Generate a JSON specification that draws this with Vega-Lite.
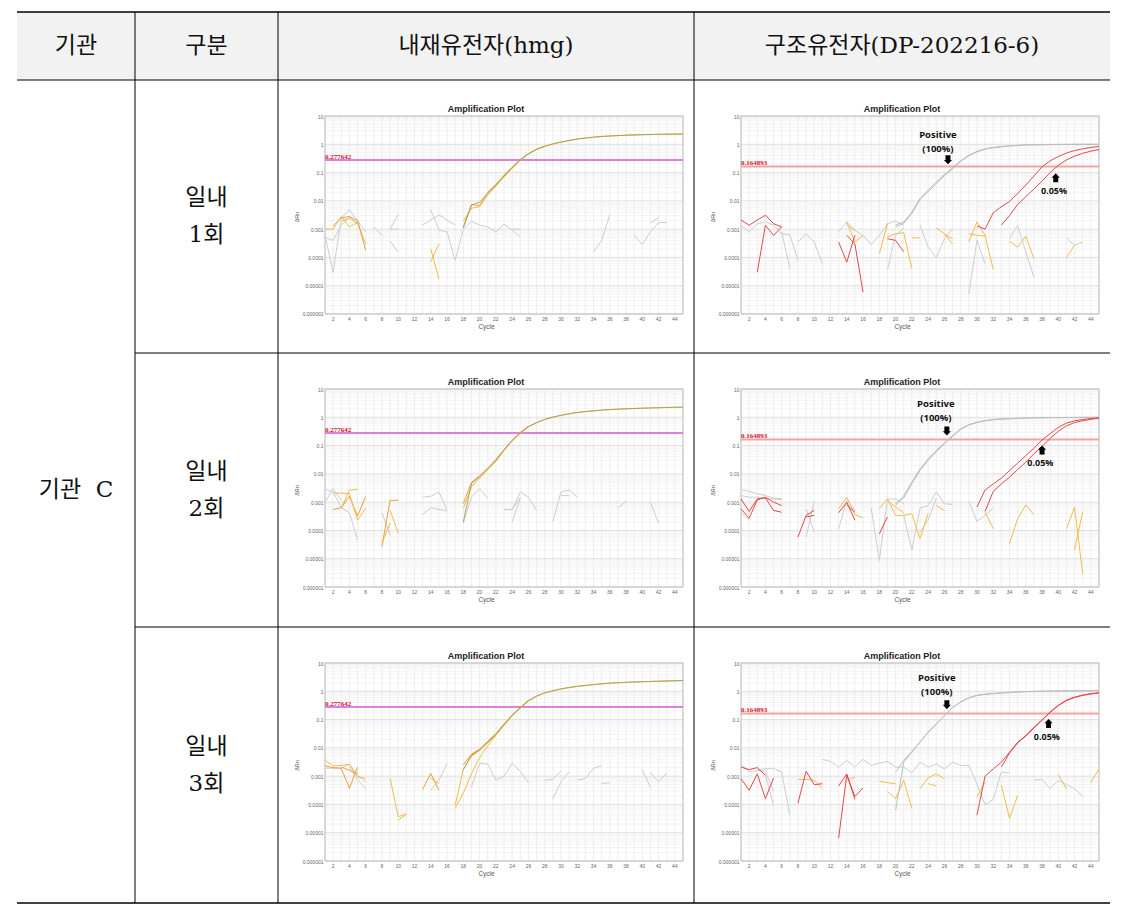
{
"$schema":"https://vega.github.io/schema/vega-lite/v6.json",
"background":"white",
"padding":{"left":16,"top":11,"right":19,"bottom":9},
"config":{"view":{"stroke":null},"axis":{"labelFont":"Liberation Sans","titleFont":"Liberation Sans"}},
"datasets":{
"gx":[{"c":1},{"c":2},{"c":3},{"c":4},{"c":5},{"c":6},{"c":7},{"c":8},{"c":9},{"c":10},{"c":11},{"c":12},{"c":13},{"c":14},{"c":15},{"c":16},{"c":17},{"c":18},{"c":19},{"c":20},{"c":21},{"c":22},{"c":23},{"c":24},{"c":25},{"c":26},{"c":27},{"c":28},{"c":29},{"c":30},{"c":31},{"c":32},{"c":33},{"c":34},{"c":35},{"c":36},{"c":37},{"c":38},{"c":39},{"c":40},{"c":41},{"c":42},{"c":43},{"c":44},{"c":45}],
"xt":[{"c":2},{"c":4},{"c":6},{"c":8},{"c":10},{"c":12},{"c":14},{"c":16},{"c":18},{"c":20},{"c":22},{"c":24},{"c":26},{"c":28},{"c":30},{"c":32},{"c":34},{"c":36},{"c":38},{"c":40},{"c":42},{"c":44}],
"gy":[{"v":2e-6},{"v":3e-6},{"v":4e-6},{"v":5e-6},{"v":6e-6},{"v":7e-6},{"v":8e-6},{"v":9e-6},{"v":2e-5},{"v":3e-5},{"v":4e-5},{"v":5e-5},{"v":6e-5},{"v":7e-5},{"v":8e-5},{"v":9e-5},{"v":2e-4},{"v":3e-4},{"v":4e-4},{"v":5e-4},{"v":6e-4},{"v":7e-4},{"v":8e-4},{"v":9e-4},{"v":0.002},{"v":0.003},{"v":0.004},{"v":0.005},{"v":0.006},{"v":0.007},{"v":0.008},{"v":0.009},{"v":0.02},{"v":0.03},{"v":0.04},{"v":0.05},{"v":0.06},{"v":0.07},{"v":0.08},{"v":0.09},{"v":0.2},{"v":0.3},{"v":0.4},{"v":0.5},{"v":0.6},{"v":0.7},{"v":0.8},{"v":0.9},{"v":2},{"v":3},{"v":4},{"v":5},{"v":6},{"v":7},{"v":8},{"v":9}],
"gd":[{"v":0.000001},{"v":0.00001},{"v":0.0001},{"v":0.001},{"v":0.01},{"v":0.1},{"v":1},{"v":10}],
"h1":[
{"s":"n1","g":"n","c":1,"v":0.0006},{"s":"n1","g":"n","c":2,"v":0.00003},{"s":"n1","g":"n","c":3,"v":0.0025},{"s":"n1","g":"n","c":4,"v":0.0048},{"s":"n1","g":"n","c":5,"v":0.002},{"s":"n1","g":"n","c":6,"v":0.0008},
{"s":"n2","g":"n","c":1,"v":0.0005},{"s":"n2","g":"n","c":2,"v":0.0004},{"s":"n2","g":"n","c":3,"v":0.0014},{"s":"n2","g":"n","c":4,"v":0.0025},{"s":"n2","g":"n","c":5,"v":0.0017},
{"s":"n3","g":"n","c":7,"v":0.0012},{"s":"n3","g":"n","c":8,"v":0.0006},
{"s":"n4","g":"n","c":9,"v":0.001},{"s":"n4","g":"n","c":10,"v":0.0034},
{"s":"n5","g":"n","c":9,"v":0.001},{"s":"n5","g":"n","c":10,"v":0.001},
{"s":"n6","g":"n","c":9,"v":0.00038},{"s":"n6","g":"n","c":10,"v":0.000155},
{"s":"n7","g":"n","c":13,"v":0.0014},{"s":"n7","g":"n","c":14,"v":0.0021},{"s":"n7","g":"n","c":15,"v":0.0032},{"s":"n7","g":"n","c":16,"v":0.0021},{"s":"n7","g":"n","c":17,"v":0.0014},
{"s":"n8","g":"n","c":14,"v":0.0048},{"s":"n8","g":"n","c":15,"v":0.00092},{"s":"n8","g":"n","c":16,"v":0.0008},{"s":"n8","g":"n","c":17,"v":0.000078},{"s":"n8","g":"n","c":18,"v":0.001},{"s":"n8","g":"n","c":19,"v":0.0019},{"s":"n8","g":"n","c":20,"v":0.0014},{"s":"n8","g":"n","c":21,"v":0.0012},{"s":"n8","g":"n","c":22,"v":0.0008},{"s":"n8","g":"n","c":23,"v":0.0015},{"s":"n8","g":"n","c":24,"v":0.00092},{"s":"n8","g":"n","c":25,"v":0.00053},
{"s":"n9","g":"n","c":24,"v":0.001},{"s":"n9","g":"n","c":25,"v":0.001},
{"s":"n10","g":"n","c":34,"v":0.000155},{"s":"n10","g":"n","c":35,"v":0.0004},{"s":"n10","g":"n","c":36,"v":0.0032},
{"s":"n11","g":"n","c":39,"v":0.0006},{"s":"n11","g":"n","c":40,"v":0.00029},{"s":"n11","g":"n","c":41,"v":0.0008},{"s":"n11","g":"n","c":42,"v":0.0017},{"s":"n11","g":"n","c":43,"v":0.0017},
{"s":"n12","g":"n","c":41,"v":0.0017},{"s":"n12","g":"n","c":42,"v":0.0025},
{"s":"y1","g":"y","c":1,"v":0.001},{"s":"y1","g":"y","c":2,"v":0.001},{"s":"y1","g":"y","c":3,"v":0.0028},{"s":"y1","g":"y","c":4,"v":0.0012},{"s":"y1","g":"y","c":5,"v":0.0017},{"s":"y1","g":"y","c":6,"v":0.0003},
{"s":"o1","g":"o","c":2,"v":0.0013},{"s":"o1","g":"o","c":3,"v":0.0025},{"s":"o1","g":"o","c":4,"v":0.0028},{"s":"o1","g":"o","c":5,"v":0.002},{"s":"o1","g":"o","c":6,"v":0.00018},
{"s":"y2","g":"y","c":3,"v":0.0019},{"s":"y2","g":"y","c":4,"v":0.0025},{"s":"y2","g":"y","c":5,"v":0.0015},
{"s":"y3","g":"y","c":14,"v":0.0002},{"s":"y3","g":"y","c":15,"v":0.000017},
{"s":"y4","g":"y","c":14,"v":0.00007},{"s":"y4","g":"y","c":15,"v":0.0003},
{"s":"b","g":"y","c":18,"v":0.0019},{"s":"b","g":"y","c":19,"v":0.0055},{"s":"b","g":"y","c":20,"v":0.0062},{"s":"b","g":"y","c":21,"v":0.016},{"s":"b","g":"y","c":22,"v":0.033},{"s":"b","g":"y","c":23,"v":0.07},{"s":"b","g":"y","c":24,"v":0.14},{"s":"b","g":"y","c":25,"v":0.27},{"s":"b","g":"y","c":26,"v":0.45},{"s":"b","g":"y","c":27,"v":0.65},{"s":"b","g":"y","c":28,"v":0.84},{"s":"b","g":"y","c":29,"v":1.02},{"s":"b","g":"y","c":30,"v":1.19},{"s":"b","g":"y","c":32,"v":1.52},{"s":"b","g":"y","c":34,"v":1.78},{"s":"b","g":"y","c":36,"v":1.96},{"s":"b","g":"y","c":38,"v":2.09},{"s":"b","g":"y","c":40,"v":2.18},{"s":"b","g":"y","c":42,"v":2.25},{"s":"b","g":"y","c":45,"v":2.31},
{"s":"c","g":"o","c":18,"v":0.0011},{"s":"c","g":"o","c":19,"v":0.0075},{"s":"c","g":"o","c":20,"v":0.0068},{"s":"c","g":"o","c":21,"v":0.02},{"s":"c","g":"o","c":22,"v":0.038},{"s":"c","g":"o","c":23,"v":0.08},{"s":"c","g":"o","c":24,"v":0.155},{"s":"c","g":"o","c":25,"v":0.29},{"s":"c","g":"o","c":26,"v":0.47},{"s":"c","g":"o","c":27,"v":0.67},{"s":"c","g":"o","c":28,"v":0.86},
{"s":"a","g":"v","c":18,"v":0.0012},{"s":"a","g":"v","c":19,"v":0.007},{"s":"a","g":"v","c":20,"v":0.009},{"s":"a","g":"v","c":21,"v":0.018},{"s":"a","g":"v","c":22,"v":0.036},{"s":"a","g":"v","c":23,"v":0.075},{"s":"a","g":"v","c":24,"v":0.15},{"s":"a","g":"v","c":25,"v":0.28},{"s":"a","g":"v","c":26,"v":0.46},{"s":"a","g":"v","c":27,"v":0.66},{"s":"a","g":"v","c":28,"v":0.85},{"s":"a","g":"v","c":29,"v":1.03},{"s":"a","g":"v","c":30,"v":1.2},{"s":"a","g":"v","c":31,"v":1.37},{"s":"a","g":"v","c":32,"v":1.53},{"s":"a","g":"v","c":33,"v":1.67},{"s":"a","g":"v","c":34,"v":1.79},{"s":"a","g":"v","c":35,"v":1.89},{"s":"a","g":"v","c":36,"v":1.97},{"s":"a","g":"v","c":38,"v":2.1},{"s":"a","g":"v","c":40,"v":2.19},{"s":"a","g":"v","c":42,"v":2.26},{"s":"a","g":"v","c":44,"v":2.3},{"s":"a","g":"v","c":45,"v":2.32}
],
"d1":[
{"s":"n1","g":"n","c":1,"v":0.00137},{"s":"n1","g":"n","c":2,"v":0.0008},{"s":"n1","g":"n","c":3,"v":0.00156},{"s":"n1","g":"n","c":4,"v":0.0018},{"s":"n1","g":"n","c":5,"v":0.00137},{"s":"n1","g":"n","c":6,"v":0.00069},{"s":"n1","g":"n","c":7,"v":0.00064},{"s":"n1","g":"n","c":8,"v":0.000078},
{"s":"n2","g":"n","c":6,"v":0.0008},{"s":"n2","g":"n","c":7,"v":0.00004},
{"s":"n3","g":"n","c":8,"v":0.00035},{"s":"n3","g":"n","c":9,"v":0.00069},{"s":"n3","g":"n","c":10,"v":0.00035},{"s":"n3","g":"n","c":11,"v":0.00006},
{"s":"n4","g":"n","c":13,"v":0.0008},{"s":"n4","g":"n","c":14,"v":0.0018},{"s":"n4","g":"n","c":15,"v":0.0009},{"s":"n4","g":"n","c":16,"v":0.0006},{"s":"n4","g":"n","c":17,"v":0.00029},{"s":"n4","g":"n","c":18,"v":0.0006},{"s":"n4","g":"n","c":19,"v":0.00156},{"s":"n4","g":"n","c":20,"v":0.0019},{"s":"n4","g":"n","c":21,"v":0.00137},
{"s":"n5","g":"n","c":19,"v":0.000036},{"s":"n5","g":"n","c":20,"v":0.0006},{"s":"n5","g":"n","c":21,"v":0.0011},
{"s":"n6","g":"n","c":23,"v":0.00144},{"s":"n6","g":"n","c":24,"v":0.00023},{"s":"n6","g":"n","c":25,"v":0.000098},{"s":"n6","g":"n","c":26,"v":0.00046},{"s":"n6","g":"n","c":27,"v":0.00105},
{"s":"n7","g":"n","c":29,"v":0.0000051},{"s":"n7","g":"n","c":30,"v":0.0004},{"s":"n7","g":"n","c":31,"v":0.00006},
{"s":"n8","g":"n","c":34,"v":0.00046},{"s":"n8","g":"n","c":35,"v":0.00137},{"s":"n8","g":"n","c":36,"v":0.000155},{"s":"n8","g":"n","c":37,"v":0.00002},
{"s":"n9","g":"n","c":41,"v":0.00049},{"s":"n9","g":"n","c":42,"v":0.00027},{"s":"n9","g":"n","c":43,"v":0.00035},
{"s":"y1","g":"y","c":14,"v":0.0018},{"s":"y1","g":"y","c":15,"v":0.00035},{"s":"y1","g":"y","c":16,"v":0.0006},
{"s":"y2","g":"y","c":14,"v":0.00137},{"s":"y2","g":"y","c":15,"v":0.0009},
{"s":"y3","g":"y","c":18,"v":0.000135},{"s":"y3","g":"y","c":19,"v":0.00156},
{"s":"y4","g":"y","c":19,"v":0.00053},{"s":"y4","g":"y","c":20,"v":0.00069},{"s":"y4","g":"y","c":21,"v":0.00075},{"s":"y4","g":"y","c":22,"v":0.00004},
{"s":"y5","g":"y","c":22,"v":0.00049},{"s":"y5","g":"y","c":23,"v":0.00049},
{"s":"y6","g":"y","c":25,"v":0.0011},{"s":"y6","g":"y","c":26,"v":0.00069},{"s":"y6","g":"y","c":27,"v":0.0003},
{"s":"y7","g":"y","c":26,"v":0.00064},{"s":"y7","g":"y","c":27,"v":0.00046},
{"s":"y8","g":"y","c":29,"v":0.00035},{"s":"y8","g":"y","c":30,"v":0.0018},{"s":"y8","g":"y","c":31,"v":0.0006},{"s":"y8","g":"y","c":32,"v":0.000037},
{"s":"y9","g":"y","c":29,"v":0.00069},{"s":"y9","g":"y","c":30,"v":0.0006},{"s":"y9","g":"y","c":31,"v":0.00057},
{"s":"y10","g":"y","c":34,"v":0.00037},{"s":"y10","g":"y","c":35,"v":0.00023},{"s":"y10","g":"y","c":36,"v":0.00057},{"s":"y10","g":"y","c":37,"v":0.00009},
{"s":"y11","g":"y","c":41,"v":0.0001},{"s":"y11","g":"y","c":42,"v":0.00027},
{"s":"r3","g":"r","c":1,"v":0.0021},{"s":"r3","g":"r","c":2,"v":0.00137},{"s":"r3","g":"r","c":3,"v":0.0021},{"s":"r3","g":"r","c":4,"v":0.0031},{"s":"r3","g":"r","c":5,"v":0.00156},{"s":"r3","g":"r","c":6,"v":0.0012},
{"s":"r4","g":"r","c":3,"v":0.00003},{"s":"r4","g":"r","c":4,"v":0.00137},{"s":"r4","g":"r","c":5,"v":0.0006},{"s":"r4","g":"r","c":6,"v":0.0012},
{"s":"r5","g":"r","c":13,"v":0.00035},{"s":"r5","g":"r","c":14,"v":0.000068},{"s":"r5","g":"r","c":15,"v":0.0006},
{"s":"r6","g":"r","c":14,"v":0.0006},{"s":"r6","g":"r","c":15,"v":0.0003},{"s":"r6","g":"r","c":16,"v":0.0000059},
{"s":"r7","g":"r","c":19,"v":0.00046},{"s":"r7","g":"r","c":20,"v":0.0004},{"s":"r7","g":"r","c":21,"v":0.00016},
{"s":"p1","g":"p","c":20,"v":0.0014},{"s":"p1","g":"p","c":21,"v":0.0018},{"s":"p1","g":"p","c":22,"v":0.004},{"s":"p1","g":"p","c":23,"v":0.012},{"s":"p1","g":"p","c":24,"v":0.024},{"s":"p1","g":"p","c":25,"v":0.046},{"s":"p1","g":"p","c":26,"v":0.085},{"s":"p1","g":"p","c":27,"v":0.145},{"s":"p1","g":"p","c":28,"v":0.26},{"s":"p1","g":"p","c":29,"v":0.41},{"s":"p1","g":"p","c":30,"v":0.56},{"s":"p1","g":"p","c":31,"v":0.69},{"s":"p1","g":"p","c":32,"v":0.77},{"s":"p1","g":"p","c":33,"v":0.83},{"s":"p1","g":"p","c":34,"v":0.88},{"s":"p1","g":"p","c":35,"v":0.92},{"s":"p1","g":"p","c":36,"v":0.95},{"s":"p1","g":"p","c":38,"v":0.98},{"s":"p1","g":"p","c":40,"v":0.99},{"s":"p1","g":"p","c":42,"v":1.0},{"s":"p1","g":"p","c":45,"v":1.0},
{"s":"p2","g":"p","c":20,"v":0.0012},{"s":"p2","g":"p","c":21,"v":0.0016},{"s":"p2","g":"p","c":22,"v":0.0036},{"s":"p2","g":"p","c":23,"v":0.011},{"s":"p2","g":"p","c":24,"v":0.021},{"s":"p2","g":"p","c":25,"v":0.041},{"s":"p2","g":"p","c":26,"v":0.078},{"s":"p2","g":"p","c":27,"v":0.135},{"s":"p2","g":"p","c":28,"v":0.25},{"s":"p2","g":"p","c":29,"v":0.39},{"s":"p2","g":"p","c":30,"v":0.54},{"s":"p2","g":"p","c":31,"v":0.67},{"s":"p2","g":"p","c":32,"v":0.76},{"s":"p2","g":"p","c":33,"v":0.82},{"s":"p2","g":"p","c":34,"v":0.87},{"s":"p2","g":"p","c":36,"v":0.94},{"s":"p2","g":"p","c":38,"v":0.97},{"s":"p2","g":"p","c":40,"v":0.985},{"s":"p2","g":"p","c":45,"v":1.0},
{"s":"r1","g":"r","c":30,"v":0.0013},{"s":"r1","g":"r","c":31,"v":0.001},{"s":"r1","g":"r","c":32,"v":0.0038},{"s":"r1","g":"r","c":33,"v":0.0062},{"s":"r1","g":"r","c":34,"v":0.0095},{"s":"r1","g":"r","c":35,"v":0.018},{"s":"r1","g":"r","c":36,"v":0.036},{"s":"r1","g":"r","c":37,"v":0.075},{"s":"r1","g":"r","c":38,"v":0.16},{"s":"r1","g":"r","c":39,"v":0.26},{"s":"r1","g":"r","c":40,"v":0.37},{"s":"r1","g":"r","c":41,"v":0.49},{"s":"r1","g":"r","c":42,"v":0.6},{"s":"r1","g":"r","c":43,"v":0.69},{"s":"r1","g":"r","c":44,"v":0.77},{"s":"r1","g":"r","c":45,"v":0.84},
{"s":"r2","g":"r","c":33,"v":0.0014},{"s":"r2","g":"r","c":34,"v":0.003},{"s":"r2","g":"r","c":35,"v":0.0075},{"s":"r2","g":"r","c":36,"v":0.014},{"s":"r2","g":"r","c":37,"v":0.026},{"s":"r2","g":"r","c":38,"v":0.05},{"s":"r2","g":"r","c":39,"v":0.1},{"s":"r2","g":"r","c":40,"v":0.18},{"s":"r2","g":"r","c":41,"v":0.28},{"s":"r2","g":"r","c":42,"v":0.38},{"s":"r2","g":"r","c":43,"v":0.48},{"s":"r2","g":"r","c":44,"v":0.57},{"s":"r2","g":"r","c":45,"v":0.65}
],
"h2":[
{"s":"n1","g":"n","c":1,"v":0.0028},{"s":"n1","g":"n","c":2,"v":0.0023},{"s":"n1","g":"n","c":3,"v":0.00064},{"s":"n1","g":"n","c":4,"v":0.00042},{"s":"n1","g":"n","c":5,"v":0.000047},
{"s":"n2","g":"n","c":1,"v":0.001},{"s":"n2","g":"n","c":2,"v":0.003},{"s":"n2","g":"n","c":3,"v":0.00116},
{"s":"n3","g":"n","c":8,"v":0.00042},{"s":"n3","g":"n","c":9,"v":0.00007},
{"s":"n4","g":"n","c":13,"v":0.0015},{"s":"n4","g":"n","c":14,"v":0.0016},{"s":"n4","g":"n","c":15,"v":0.0023},{"s":"n4","g":"n","c":16,"v":0.00052},
{"s":"n5","g":"n","c":13,"v":0.00037},{"s":"n5","g":"n","c":14,"v":0.00063},{"s":"n5","g":"n","c":15,"v":0.00055},{"s":"n5","g":"n","c":16,"v":0.00049},
{"s":"n6","g":"n","c":18,"v":0.00018},{"s":"n6","g":"n","c":19,"v":0.0015},{"s":"n6","g":"n","c":20,"v":0.003},{"s":"n6","g":"n","c":21,"v":0.0014},
{"s":"n7","g":"n","c":24,"v":0.00052},{"s":"n7","g":"n","c":25,"v":0.0023},{"s":"n7","g":"n","c":26,"v":0.0015},{"s":"n7","g":"n","c":27,"v":0.00052},
{"s":"n8","g":"n","c":23,"v":0.00055},{"s":"n8","g":"n","c":24,"v":0.00055},{"s":"n8","g":"n","c":25,"v":0.00144},
{"s":"n9","g":"n","c":24,"v":0.0002},{"s":"n9","g":"n","c":25,"v":0.0014},
{"s":"n10","g":"n","c":29,"v":0.0002},{"s":"n10","g":"n","c":30,"v":0.0023},{"s":"n10","g":"n","c":31,"v":0.0027},{"s":"n10","g":"n","c":32,"v":0.0015},
{"s":"n11","g":"n","c":30,"v":0.0017},{"s":"n11","g":"n","c":31,"v":0.0017},
{"s":"n12","g":"n","c":37,"v":0.00063},{"s":"n12","g":"n","c":38,"v":0.00107},
{"s":"n13","g":"n","c":41,"v":0.001},{"s":"n13","g":"n","c":42,"v":0.00018},
{"s":"o1","g":"o","c":2,"v":0.00055},{"s":"o1","g":"o","c":3,"v":0.00064},{"s":"o1","g":"o","c":4,"v":0.0016},{"s":"o1","g":"o","c":5,"v":0.00032},{"s":"o1","g":"o","c":6,"v":0.0016},
{"s":"y1","g":"y","c":2,"v":0.0021},{"s":"y1","g":"y","c":3,"v":0.0021},{"s":"y1","g":"y","c":4,"v":0.002},{"s":"y1","g":"y","c":5,"v":0.00023},{"s":"y1","g":"y","c":6,"v":0.0006},
{"s":"y2","g":"y","c":3,"v":0.0006},{"s":"y2","g":"y","c":4,"v":0.0027},{"s":"y2","g":"y","c":5,"v":0.0028},
{"s":"o2","g":"o","c":8,"v":0.000027},{"s":"o2","g":"o","c":9,"v":0.00116},{"s":"o2","g":"o","c":10,"v":0.00116},
{"s":"y3","g":"y","c":8,"v":0.000036},{"s":"y3","g":"y","c":9,"v":0.00018},
{"s":"y4","g":"y","c":9,"v":0.00052},{"s":"y4","g":"y","c":10,"v":0.00008},
{"s":"b","g":"y","c":18,"v":0.0006},{"s":"b","g":"y","c":19,"v":0.0035},{"s":"b","g":"y","c":20,"v":0.007},{"s":"b","g":"y","c":21,"v":0.014},{"s":"b","g":"y","c":22,"v":0.028},{"s":"b","g":"y","c":23,"v":0.066},{"s":"b","g":"y","c":24,"v":0.145},{"s":"b","g":"y","c":25,"v":0.27},{"s":"b","g":"y","c":26,"v":0.46},{"s":"b","g":"y","c":27,"v":0.64},{"s":"b","g":"y","c":28,"v":0.83},{"s":"b","g":"y","c":30,"v":1.17},{"s":"b","g":"y","c":32,"v":1.47},{"s":"b","g":"y","c":34,"v":1.69},{"s":"b","g":"y","c":36,"v":1.87},{"s":"b","g":"y","c":38,"v":1.99},{"s":"b","g":"y","c":40,"v":2.09},{"s":"b","g":"y","c":42,"v":2.17},{"s":"b","g":"y","c":45,"v":2.29},
{"s":"c","g":"o","c":18,"v":0.0009},{"s":"c","g":"o","c":19,"v":0.005},{"s":"c","g":"o","c":20,"v":0.0085},{"s":"c","g":"o","c":21,"v":0.016},{"s":"c","g":"o","c":22,"v":0.032},{"s":"c","g":"o","c":23,"v":0.072},{"s":"c","g":"o","c":24,"v":0.155},{"s":"c","g":"o","c":25,"v":0.29},{"s":"c","g":"o","c":26,"v":0.48},
{"s":"a","g":"v","c":18,"v":0.0002},{"s":"a","g":"v","c":19,"v":0.0045},{"s":"a","g":"v","c":20,"v":0.008},{"s":"a","g":"v","c":21,"v":0.015},{"s":"a","g":"v","c":22,"v":0.03},{"s":"a","g":"v","c":23,"v":0.07},{"s":"a","g":"v","c":24,"v":0.15},{"s":"a","g":"v","c":25,"v":0.28},{"s":"a","g":"v","c":26,"v":0.47},{"s":"a","g":"v","c":27,"v":0.65},{"s":"a","g":"v","c":28,"v":0.84},{"s":"a","g":"v","c":29,"v":1.02},{"s":"a","g":"v","c":30,"v":1.18},{"s":"a","g":"v","c":31,"v":1.34},{"s":"a","g":"v","c":32,"v":1.48},{"s":"a","g":"v","c":33,"v":1.6},{"s":"a","g":"v","c":34,"v":1.7},{"s":"a","g":"v","c":35,"v":1.8},{"s":"a","g":"v","c":36,"v":1.88},{"s":"a","g":"v","c":38,"v":2.0},{"s":"a","g":"v","c":40,"v":2.1},{"s":"a","g":"v","c":42,"v":2.18},{"s":"a","g":"v","c":44,"v":2.26},{"s":"a","g":"v","c":45,"v":2.3}
],
"d2":[
{"s":"n1","g":"n","c":1,"v":0.0028},{"s":"n1","g":"n","c":2,"v":0.0024},{"s":"n1","g":"n","c":3,"v":0.002},{"s":"n1","g":"n","c":4,"v":0.0017},{"s":"n1","g":"n","c":5,"v":0.0014},{"s":"n1","g":"n","c":6,"v":0.0013},
{"s":"n2","g":"n","c":1,"v":0.0017},{"s":"n2","g":"n","c":2,"v":0.0015},{"s":"n2","g":"n","c":3,"v":0.0015},{"s":"n2","g":"n","c":4,"v":0.0013},{"s":"n2","g":"n","c":5,"v":0.0013},{"s":"n2","g":"n","c":6,"v":0.00124},
{"s":"n3","g":"n","c":1,"v":0.00044},{"s":"n3","g":"n","c":2,"v":0.00023},
{"s":"n4","g":"n","c":9,"v":0.000058},{"s":"n4","g":"n","c":10,"v":0.00108},
{"s":"n5","g":"n","c":9,"v":0.00058},{"s":"n5","g":"n","c":10,"v":0.000087},
{"s":"n6","g":"n","c":13,"v":0.000115},{"s":"n6","g":"n","c":14,"v":0.00115},{"s":"n6","g":"n","c":15,"v":0.00051},
{"s":"n7","g":"n","c":17,"v":0.00063},{"s":"n7","g":"n","c":18,"v":0.0000087},{"s":"n7","g":"n","c":19,"v":0.0013},{"s":"n7","g":"n","c":20,"v":0.0013},{"s":"n7","g":"n","c":21,"v":0.00087},
{"s":"n8","g":"n","c":21,"v":0.00034},{"s":"n8","g":"n","c":22,"v":0.00002},{"s":"n8","g":"n","c":23,"v":0.00061},{"s":"n8","g":"n","c":24,"v":0.00076},{"s":"n8","g":"n","c":25,"v":0.0023},{"s":"n8","g":"n","c":26,"v":0.00087},{"s":"n8","g":"n","c":27,"v":0.00083},
{"s":"n9","g":"n","c":23,"v":0.000087},{"s":"n9","g":"n","c":24,"v":0.00023},{"s":"n9","g":"n","c":25,"v":0.0014},
{"s":"n10","g":"n","c":29,"v":0.00108},{"s":"n10","g":"n","c":30,"v":0.00021},{"s":"n10","g":"n","c":31,"v":0.00034},{"s":"n10","g":"n","c":32,"v":0.00061},
{"s":"y1","g":"y","c":13,"v":0.00058},{"s":"y1","g":"y","c":14,"v":0.0015},{"s":"y1","g":"y","c":15,"v":0.00036},{"s":"y1","g":"y","c":16,"v":0.00028},
{"s":"y2","g":"y","c":18,"v":0.00061},{"s":"y2","g":"y","c":19,"v":0.0013},{"s":"y2","g":"y","c":20,"v":0.00034},{"s":"y2","g":"y","c":21,"v":0.00034},{"s":"y2","g":"y","c":22,"v":0.00039},{"s":"y2","g":"y","c":23,"v":0.000051},{"s":"y2","g":"y","c":24,"v":0.00039},
{"s":"y3","g":"y","c":19,"v":0.00115},{"s":"y3","g":"y","c":20,"v":0.00067},{"s":"y3","g":"y","c":21,"v":0.00042},
{"s":"y4","g":"y","c":25,"v":0.00076},{"s":"y4","g":"y","c":26,"v":0.00051},
{"s":"y5","g":"y","c":31,"v":0.00044},{"s":"y5","g":"y","c":32,"v":0.000115},
{"s":"y6","g":"y","c":34,"v":0.000034},{"s":"y6","g":"y","c":35,"v":0.00026},{"s":"y6","g":"y","c":36,"v":0.0008},{"s":"y6","g":"y","c":37,"v":0.00036},
{"s":"y7","g":"y","c":41,"v":0.000115},{"s":"y7","g":"y","c":42,"v":0.00065},{"s":"y7","g":"y","c":43,"v":0.0000029},
{"s":"y8","g":"y","c":42,"v":0.00002},{"s":"y8","g":"y","c":43,"v":0.00047},
{"s":"r3","g":"r","c":1,"v":0.0013},{"s":"r3","g":"r","c":2,"v":0.00047},{"s":"r3","g":"r","c":3,"v":0.0013},{"s":"r3","g":"r","c":4,"v":0.00142},{"s":"r3","g":"r","c":5,"v":0.00051},{"s":"r3","g":"r","c":6,"v":0.00044},
{"s":"r4","g":"r","c":1,"v":0.00058},{"s":"r4","g":"r","c":2,"v":0.00027},{"s":"r4","g":"r","c":3,"v":0.0012},{"s":"r4","g":"r","c":4,"v":0.0015},{"s":"r4","g":"r","c":5,"v":0.001},{"s":"r4","g":"r","c":6,"v":0.00076},
{"s":"r5","g":"r","c":8,"v":0.000058},{"s":"r5","g":"r","c":9,"v":0.00034},{"s":"r5","g":"r","c":10,"v":0.00051},
{"s":"r6","g":"r","c":9,"v":0.0003},{"s":"r6","g":"r","c":10,"v":0.00034},
{"s":"r7","g":"r","c":13,"v":0.00042},{"s":"r7","g":"r","c":14,"v":0.001},{"s":"r7","g":"r","c":15,"v":0.00023},
{"s":"r8","g":"r","c":14,"v":0.0008},{"s":"r8","g":"r","c":15,"v":0.00044},
{"s":"r9","g":"r","c":18,"v":0.000076},{"s":"r9","g":"r","c":19,"v":0.0003},
{"s":"p1","g":"p","c":20,"v":0.00076},{"s":"p1","g":"p","c":21,"v":0.0017},{"s":"p1","g":"p","c":22,"v":0.0051},{"s":"p1","g":"p","c":23,"v":0.015},{"s":"p1","g":"p","c":24,"v":0.034},{"s":"p1","g":"p","c":25,"v":0.067},{"s":"p1","g":"p","c":26,"v":0.124},{"s":"p1","g":"p","c":27,"v":0.225},{"s":"p1","g":"p","c":28,"v":0.39},{"s":"p1","g":"p","c":29,"v":0.55},{"s":"p1","g":"p","c":30,"v":0.67},{"s":"p1","g":"p","c":31,"v":0.76},{"s":"p1","g":"p","c":32,"v":0.83},{"s":"p1","g":"p","c":33,"v":0.87},{"s":"p1","g":"p","c":34,"v":0.9},{"s":"p1","g":"p","c":35,"v":0.93},{"s":"p1","g":"p","c":36,"v":0.95},{"s":"p1","g":"p","c":38,"v":0.97},{"s":"p1","g":"p","c":40,"v":0.98},{"s":"p1","g":"p","c":42,"v":0.99},{"s":"p1","g":"p","c":45,"v":1.0},
{"s":"p2","g":"p","c":20,"v":0.0009},{"s":"p2","g":"p","c":21,"v":0.0014},{"s":"p2","g":"p","c":22,"v":0.0045},{"s":"p2","g":"p","c":23,"v":0.013},{"s":"p2","g":"p","c":24,"v":0.03},{"s":"p2","g":"p","c":25,"v":0.06},{"s":"p2","g":"p","c":26,"v":0.115},{"s":"p2","g":"p","c":27,"v":0.21},{"s":"p2","g":"p","c":28,"v":0.37},{"s":"p2","g":"p","c":29,"v":0.53},{"s":"p2","g":"p","c":30,"v":0.65},{"s":"p2","g":"p","c":31,"v":0.75},{"s":"p2","g":"p","c":32,"v":0.82},{"s":"p2","g":"p","c":34,"v":0.89},{"s":"p2","g":"p","c":36,"v":0.94},{"s":"p2","g":"p","c":38,"v":0.96},{"s":"p2","g":"p","c":40,"v":0.975},{"s":"p2","g":"p","c":45,"v":1.0},
{"s":"r1","g":"r","c":30,"v":0.00067},{"s":"r1","g":"r","c":31,"v":0.0027},{"s":"r1","g":"r","c":32,"v":0.0044},{"s":"r1","g":"r","c":33,"v":0.007},{"s":"r1","g":"r","c":34,"v":0.013},{"s":"r1","g":"r","c":35,"v":0.024},{"s":"r1","g":"r","c":36,"v":0.044},{"s":"r1","g":"r","c":37,"v":0.08},{"s":"r1","g":"r","c":38,"v":0.158},{"s":"r1","g":"r","c":39,"v":0.265},{"s":"r1","g":"r","c":40,"v":0.44},{"s":"r1","g":"r","c":41,"v":0.62},{"s":"r1","g":"r","c":42,"v":0.75},{"s":"r1","g":"r","c":43,"v":0.84},{"s":"r1","g":"r","c":44,"v":0.9},{"s":"r1","g":"r","c":45,"v":0.95},
{"s":"r2","g":"r","c":31,"v":0.00047},{"s":"r2","g":"r","c":32,"v":0.0024},{"s":"r2","g":"r","c":33,"v":0.0044},{"s":"r2","g":"r","c":34,"v":0.0076},{"s":"r2","g":"r","c":35,"v":0.0142},{"s":"r2","g":"r","c":36,"v":0.026},{"s":"r2","g":"r","c":37,"v":0.051},{"s":"r2","g":"r","c":38,"v":0.092},{"s":"r2","g":"r","c":39,"v":0.18},{"s":"r2","g":"r","c":40,"v":0.32},{"s":"r2","g":"r","c":41,"v":0.5},{"s":"r2","g":"r","c":42,"v":0.65},{"s":"r2","g":"r","c":43,"v":0.76},{"s":"r2","g":"r","c":44,"v":0.85},{"s":"r2","g":"r","c":45,"v":0.93}
],
"h3":[
{"s":"n1","g":"n","c":1,"v":0.0019},{"s":"n1","g":"n","c":2,"v":0.0019},{"s":"n1","g":"n","c":3,"v":0.0019},{"s":"n1","g":"n","c":4,"v":0.00265},{"s":"n1","g":"n","c":5,"v":0.00108},{"s":"n1","g":"n","c":6,"v":0.00063},
{"s":"n2","g":"n","c":4,"v":0.0021},{"s":"n2","g":"n","c":5,"v":0.00076},{"s":"n2","g":"n","c":6,"v":0.00037},
{"s":"n3","g":"n","c":14,"v":0.00032},{"s":"n3","g":"n","c":15,"v":0.00072},{"s":"n3","g":"n","c":16,"v":0.0028},
{"s":"n4","g":"n","c":19,"v":0.00042},{"s":"n4","g":"n","c":20,"v":0.0028},{"s":"n4","g":"n","c":21,"v":0.00265},{"s":"n4","g":"n","c":22,"v":0.00072},{"s":"n4","g":"n","c":23,"v":0.001},{"s":"n4","g":"n","c":24,"v":0.0028},{"s":"n4","g":"n","c":25,"v":0.0015},{"s":"n4","g":"n","c":26,"v":0.00058},
{"s":"n5","g":"n","c":28,"v":0.00072},{"s":"n5","g":"n","c":29,"v":0.00076},{"s":"n5","g":"n","c":30,"v":0.0015},
{"s":"n6","g":"n","c":29,"v":0.00016},{"s":"n6","g":"n","c":30,"v":0.00063},{"s":"n6","g":"n","c":31,"v":0.00142},
{"s":"n7","g":"n","c":32,"v":0.00072},{"s":"n7","g":"n","c":33,"v":0.00083},{"s":"n7","g":"n","c":34,"v":0.0019},{"s":"n7","g":"n","c":35,"v":0.0023},
{"s":"n8","g":"n","c":35,"v":0.00055},{"s":"n8","g":"n","c":36,"v":0.00058},
{"s":"n9","g":"n","c":40,"v":0.0017},{"s":"n9","g":"n","c":41,"v":0.0004},
{"s":"n10","g":"n","c":41,"v":0.00135},{"s":"n10","g":"n","c":42,"v":0.00063},{"s":"n10","g":"n","c":43,"v":0.0013},
{"s":"y1","g":"y","c":1,"v":0.0037},{"s":"y1","g":"y","c":2,"v":0.0023},{"s":"y1","g":"y","c":3,"v":0.0024},{"s":"y1","g":"y","c":4,"v":0.00265},{"s":"y1","g":"y","c":5,"v":0.00095},{"s":"y1","g":"y","c":6,"v":0.00083},
{"s":"o1","g":"o","c":1,"v":0.0023},{"s":"o1","g":"o","c":2,"v":0.002},{"s":"o1","g":"o","c":3,"v":0.0019},{"s":"o1","g":"o","c":4,"v":0.00037},{"s":"o1","g":"o","c":5,"v":0.0021},
{"s":"o2","g":"o","c":3,"v":0.0021},{"s":"o2","g":"o","c":4,"v":0.0016},{"s":"o2","g":"o","c":5,"v":0.00124},
{"s":"y2","g":"y","c":9,"v":0.00083},{"s":"y2","g":"y","c":10,"v":0.000037},{"s":"y2","g":"y","c":11,"v":0.000046},
{"s":"y3","g":"y","c":10,"v":0.000028},{"s":"y3","g":"y","c":11,"v":0.000044},
{"s":"o3","g":"o","c":13,"v":0.00034},{"s":"o3","g":"o","c":14,"v":0.00124},{"s":"o3","g":"o","c":15,"v":0.00032},
{"s":"y4","g":"y","c":14,"v":0.00083},{"s":"y4","g":"y","c":15,"v":0.00055},
{"s":"b2","g":"y","c":17,"v":0.000072},{"s":"b2","g":"y","c":18,"v":0.00025},{"s":"b2","g":"y","c":19,"v":0.0012},{"s":"b2","g":"y","c":20,"v":0.0045},{"s":"b2","g":"y","c":21,"v":0.012},{"s":"b2","g":"y","c":22,"v":0.027},
{"s":"b","g":"y","c":17,"v":0.00009},{"s":"b","g":"y","c":18,"v":0.0018},{"s":"b","g":"y","c":19,"v":0.005},{"s":"b","g":"y","c":20,"v":0.008},{"s":"b","g":"y","c":21,"v":0.015},{"s":"b","g":"y","c":22,"v":0.028},{"s":"b","g":"y","c":23,"v":0.062},{"s":"b","g":"y","c":24,"v":0.135},{"s":"b","g":"y","c":25,"v":0.25},{"s":"b","g":"y","c":26,"v":0.45},{"s":"b","g":"y","c":27,"v":0.66},{"s":"b","g":"y","c":28,"v":0.86},{"s":"b","g":"y","c":30,"v":1.2},{"s":"b","g":"y","c":32,"v":1.48},{"s":"b","g":"y","c":34,"v":1.71},{"s":"b","g":"y","c":36,"v":1.93},{"s":"b","g":"y","c":38,"v":2.06},{"s":"b","g":"y","c":40,"v":2.17},{"s":"b","g":"y","c":42,"v":2.26},{"s":"b","g":"y","c":45,"v":2.38},
{"s":"c","g":"o","c":18,"v":0.0025},{"s":"c","g":"o","c":19,"v":0.006},{"s":"c","g":"o","c":20,"v":0.009},{"s":"c","g":"o","c":21,"v":0.017},{"s":"c","g":"o","c":22,"v":0.032},{"s":"c","g":"o","c":23,"v":0.07},{"s":"c","g":"o","c":24,"v":0.145},{"s":"c","g":"o","c":25,"v":0.27},{"s":"c","g":"o","c":26,"v":0.48},
{"s":"a","g":"v","c":18,"v":0.0017},{"s":"a","g":"v","c":19,"v":0.0055},{"s":"a","g":"v","c":20,"v":0.0085},{"s":"a","g":"v","c":21,"v":0.016},{"s":"a","g":"v","c":22,"v":0.03},{"s":"a","g":"v","c":23,"v":0.066},{"s":"a","g":"v","c":24,"v":0.14},{"s":"a","g":"v","c":25,"v":0.26},{"s":"a","g":"v","c":26,"v":0.47},{"s":"a","g":"v","c":27,"v":0.68},{"s":"a","g":"v","c":28,"v":0.88},{"s":"a","g":"v","c":29,"v":1.05},{"s":"a","g":"v","c":30,"v":1.22},{"s":"a","g":"v","c":31,"v":1.37},{"s":"a","g":"v","c":32,"v":1.5},{"s":"a","g":"v","c":33,"v":1.62},{"s":"a","g":"v","c":34,"v":1.73},{"s":"a","g":"v","c":35,"v":1.84},{"s":"a","g":"v","c":36,"v":1.95},{"s":"a","g":"v","c":38,"v":2.08},{"s":"a","g":"v","c":40,"v":2.19},{"s":"a","g":"v","c":42,"v":2.28},{"s":"a","g":"v","c":44,"v":2.36},{"s":"a","g":"v","c":45,"v":2.4}
],
"d3":[
{"s":"n1","g":"n","c":1,"v":0.0027},{"s":"n1","g":"n","c":2,"v":0.0014},{"s":"n1","g":"n","c":3,"v":0.0016},{"s":"n1","g":"n","c":4,"v":0.00147},{"s":"n1","g":"n","c":5,"v":0.00028},
{"s":"n2","g":"n","c":3,"v":0.0017},{"s":"n2","g":"n","c":4,"v":0.0018},{"s":"n2","g":"n","c":5,"v":0.0019},{"s":"n2","g":"n","c":6,"v":0.0014},{"s":"n2","g":"n","c":7,"v":0.000042},
{"s":"n3","g":"n","c":4,"v":0.00107},{"s":"n3","g":"n","c":5,"v":0.000095},
{"s":"n4","g":"n","c":11,"v":0.0039},{"s":"n4","g":"n","c":12,"v":0.0033},{"s":"n4","g":"n","c":13,"v":0.0021},{"s":"n4","g":"n","c":14,"v":0.0036},{"s":"n4","g":"n","c":15,"v":0.0021},{"s":"n4","g":"n","c":16,"v":0.0039},{"s":"n4","g":"n","c":17,"v":0.0024},{"s":"n4","g":"n","c":18,"v":0.0029},{"s":"n4","g":"n","c":19,"v":0.0033},{"s":"n4","g":"n","c":20,"v":0.0021},{"s":"n4","g":"n","c":21,"v":0.0021},{"s":"n4","g":"n","c":22,"v":0.0013},{"s":"n4","g":"n","c":23,"v":0.0031},{"s":"n4","g":"n","c":24,"v":0.0021},{"s":"n4","g":"n","c":25,"v":0.0027},{"s":"n4","g":"n","c":26,"v":0.0018},{"s":"n4","g":"n","c":27,"v":0.0031},{"s":"n4","g":"n","c":28,"v":0.0024},{"s":"n4","g":"n","c":29,"v":0.0024},{"s":"n4","g":"n","c":30,"v":0.00054},
{"s":"n5","g":"n","c":30,"v":0.0005},{"s":"n5","g":"n","c":31,"v":0.0001},{"s":"n5","g":"n","c":32,"v":0.00015},{"s":"n5","g":"n","c":33,"v":0.0014},{"s":"n5","g":"n","c":34,"v":0.0013},
{"s":"n6","g":"n","c":37,"v":0.00071},{"s":"n6","g":"n","c":38,"v":0.00077},{"s":"n6","g":"n","c":39,"v":0.00036},{"s":"n6","g":"n","c":40,"v":0.00071},{"s":"n6","g":"n","c":41,"v":0.0005},{"s":"n6","g":"n","c":42,"v":0.00036},{"s":"n6","g":"n","c":43,"v":0.00019},
{"s":"y1","g":"y","c":8,"v":0.00077},{"s":"y1","g":"y","c":9,"v":0.00077},{"s":"y1","g":"y","c":10,"v":0.00071},{"s":"y1","g":"y","c":11,"v":0.00036},
{"s":"y2","g":"y","c":14,"v":0.00071},{"s":"y2","g":"y","c":15,"v":0.00093},
{"s":"y3","g":"y","c":18,"v":0.00066},{"s":"y3","g":"y","c":19,"v":0.00059},{"s":"y3","g":"y","c":20,"v":0.00054},
{"s":"y4","g":"y","c":19,"v":0.00029},{"s":"y4","g":"y","c":20,"v":0.00016},{"s":"y4","g":"y","c":21,"v":0.00071},{"s":"y4","g":"y","c":22,"v":0.000072},
{"s":"y5","g":"y","c":23,"v":0.00036},{"s":"y5","g":"y","c":24,"v":0.00086},{"s":"y5","g":"y","c":25,"v":0.0012},{"s":"y5","g":"y","c":26,"v":0.00081},
{"s":"y6","g":"y","c":24,"v":0.00054},{"s":"y6","g":"y","c":25,"v":0.00045},
{"s":"y7","g":"y","c":30,"v":0.00019},{"s":"y7","g":"y","c":31,"v":0.00062},
{"s":"y8","g":"y","c":33,"v":0.00048},{"s":"y8","g":"y","c":34,"v":0.000032},{"s":"y8","g":"y","c":35,"v":0.00021},
{"s":"y9","g":"y","c":40,"v":0.0011},{"s":"y9","g":"y","c":41,"v":0.00036},
{"s":"y10","g":"y","c":44,"v":0.00059},{"s":"y10","g":"y","c":45,"v":0.0018},
{"s":"r3","g":"r","c":1,"v":0.0021},{"s":"r3","g":"r","c":2,"v":0.0017},{"s":"r3","g":"r","c":3,"v":0.002},{"s":"r3","g":"r","c":4,"v":0.00107},
{"s":"r4","g":"r","c":1,"v":0.00081},{"s":"r4","g":"r","c":2,"v":0.00032},{"s":"r4","g":"r","c":3,"v":0.0012},{"s":"r4","g":"r","c":4,"v":0.00016},{"s":"r4","g":"r","c":5,"v":0.00086},
{"s":"r5","g":"r","c":8,"v":0.00011},{"s":"r5","g":"r","c":9,"v":0.0015},{"s":"r5","g":"r","c":10,"v":0.0005},{"s":"r5","g":"r","c":11,"v":0.00054},
{"s":"r6","g":"r","c":13,"v":0.0000064},{"s":"r6","g":"r","c":14,"v":0.0011},{"s":"r6","g":"r","c":15,"v":0.00019},{"s":"r6","g":"r","c":16,"v":0.00038},
{"s":"r7","g":"r","c":13,"v":0.00045},{"s":"r7","g":"r","c":14,"v":0.0012},{"s":"r7","g":"r","c":15,"v":0.00015},
{"s":"p1","g":"p","c":20,"v":0.000063},{"s":"p1","g":"p","c":21,"v":0.0031},{"s":"p1","g":"p","c":22,"v":0.007},{"s":"p1","g":"p","c":23,"v":0.0157},{"s":"p1","g":"p","c":24,"v":0.035},{"s":"p1","g":"p","c":25,"v":0.069},{"s":"p1","g":"p","c":26,"v":0.135},{"s":"p1","g":"p","c":27,"v":0.265},{"s":"p1","g":"p","c":28,"v":0.42},{"s":"p1","g":"p","c":29,"v":0.59},{"s":"p1","g":"p","c":30,"v":0.72},{"s":"p1","g":"p","c":31,"v":0.78},{"s":"p1","g":"p","c":32,"v":0.84},{"s":"p1","g":"p","c":33,"v":0.88},{"s":"p1","g":"p","c":34,"v":0.92},{"s":"p1","g":"p","c":36,"v":0.98},{"s":"p1","g":"p","c":38,"v":1.01},{"s":"p1","g":"p","c":40,"v":1.03},{"s":"p1","g":"p","c":45,"v":1.05},
{"s":"p2","g":"p","c":20,"v":0.0014},{"s":"p2","g":"p","c":21,"v":0.0036},{"s":"p2","g":"p","c":22,"v":0.0075},{"s":"p2","g":"p","c":23,"v":0.016},{"s":"p2","g":"p","c":24,"v":0.036},{"s":"p2","g":"p","c":25,"v":0.07},{"s":"p2","g":"p","c":26,"v":0.14},{"s":"p2","g":"p","c":27,"v":0.27},{"s":"p2","g":"p","c":28,"v":0.42},{"s":"p2","g":"p","c":29,"v":0.58},{"s":"p2","g":"p","c":30,"v":0.71},{"s":"p2","g":"p","c":31,"v":0.78},{"s":"p2","g":"p","c":32,"v":0.83},{"s":"p2","g":"p","c":34,"v":0.9},{"s":"p2","g":"p","c":36,"v":0.97},{"s":"p2","g":"p","c":40,"v":1.02},{"s":"p2","g":"p","c":45,"v":1.04},
{"s":"r1","g":"r","c":30,"v":0.000042},{"s":"r1","g":"r","c":31,"v":0.001},{"s":"r1","g":"r","c":32,"v":0.0018},{"s":"r1","g":"r","c":33,"v":0.0031},{"s":"r1","g":"r","c":34,"v":0.007},{"s":"r1","g":"r","c":35,"v":0.0157},{"s":"r1","g":"r","c":36,"v":0.027},{"s":"r1","g":"r","c":37,"v":0.053},{"s":"r1","g":"r","c":38,"v":0.098},{"s":"r1","g":"r","c":39,"v":0.187},{"s":"r1","g":"r","c":40,"v":0.32},{"s":"r1","g":"r","c":41,"v":0.49},{"s":"r1","g":"r","c":42,"v":0.62},{"s":"r1","g":"r","c":43,"v":0.74},{"s":"r1","g":"r","c":44,"v":0.82},{"s":"r1","g":"r","c":45,"v":0.89},
{"s":"r2","g":"r","c":33,"v":0.0021},{"s":"r2","g":"r","c":34,"v":0.0065},{"s":"r2","g":"r","c":35,"v":0.015},{"s":"r2","g":"r","c":36,"v":0.026},{"s":"r2","g":"r","c":37,"v":0.05},{"s":"r2","g":"r","c":38,"v":0.095},{"s":"r2","g":"r","c":39,"v":0.18},{"s":"r2","g":"r","c":40,"v":0.31},{"s":"r2","g":"r","c":41,"v":0.47},{"s":"r2","g":"r","c":42,"v":0.6},{"s":"r2","g":"r","c":43,"v":0.72},{"s":"r2","g":"r","c":44,"v":0.8},{"s":"r2","g":"r","c":45,"v":0.87}
]
},
"columns":4,"spacing":0,"bounds":"flush","align":"each",
"concat":[
 {"width":118,"height":68,"view":{"fill":"#f2f2f2","stroke":null},"data":{"values":[{"t":"기관"}]},"layer":[
  {"mark":{"type":"text","font":"DejaVu Serif, Noto Sans CJK KR","fontSize":23,"color":"#111"},"encoding":{"text":{"field":"t"},"x":{"datum":0.5,"type":"quantitative","scale":{"domain":[0,1],"nice":false,"zero":false},"axis":null},"y":{"datum":0.5,"type":"quantitative","scale":{"domain":[0,1],"nice":false,"zero":false},"axis":null}}},
  {"mark":{"type":"rule","color":"#000","strokeWidth":1.6},"encoding":{"x":{"datum":0,"type":"quantitative","scale":{"domain":[0,1],"nice":false,"zero":false},"axis":null},"x2":{"datum":1},"y":{"datum":1,"type":"quantitative","scale":{"domain":[0,1],"nice":false,"zero":false},"axis":null}}},
  {"mark":{"type":"rule","color":"#000","strokeWidth":1.2},"encoding":{"x":{"datum":0,"type":"quantitative","scale":{"domain":[0,1],"nice":false,"zero":false},"axis":null},"x2":{"datum":1},"y":{"datum":0,"type":"quantitative","scale":{"domain":[0,1],"nice":false,"zero":false},"axis":null}}}
 ]},
 {"width":143,"height":68,"view":{"fill":"#f2f2f2","stroke":null},"data":{"values":[{"t":"구분"}]},"layer":[
  {"mark":{"type":"text","font":"DejaVu Serif, Noto Sans CJK KR","fontSize":23,"color":"#111"},"encoding":{"text":{"field":"t"},"x":{"datum":0.5,"type":"quantitative","scale":{"domain":[0,1],"nice":false,"zero":false},"axis":null},"y":{"datum":0.5,"type":"quantitative","scale":{"domain":[0,1],"nice":false,"zero":false},"axis":null}}},
  {"mark":{"type":"rule","color":"#000","strokeWidth":1.6},"encoding":{"x":{"datum":0,"type":"quantitative","scale":{"domain":[0,1],"nice":false,"zero":false},"axis":null},"x2":{"datum":1},"y":{"datum":1,"type":"quantitative","scale":{"domain":[0,1],"nice":false,"zero":false},"axis":null}}},
  {"mark":{"type":"rule","color":"#000","strokeWidth":1.2},"encoding":{"x":{"datum":0,"type":"quantitative","scale":{"domain":[0,1],"nice":false,"zero":false},"axis":null},"x2":{"datum":1},"y":{"datum":0,"type":"quantitative","scale":{"domain":[0,1],"nice":false,"zero":false},"axis":null}}},
  {"mark":{"type":"rule","color":"#000","strokeWidth":1},"encoding":{"x":{"datum":0,"type":"quantitative","scale":{"domain":[0,1],"nice":false,"zero":false},"axis":null},"y":{"datum":0,"type":"quantitative","scale":{"domain":[0,1],"nice":false,"zero":false},"axis":null},"y2":{"datum":1}}}
 ]},
 {"width":416,"height":68,"view":{"fill":"#f2f2f2","stroke":null},"data":{"values":[{"t":"내재유전자(hmg)"}]},"layer":[
  {"mark":{"type":"text","font":"DejaVu Serif, Noto Sans CJK KR","fontSize":23,"color":"#111"},"encoding":{"text":{"field":"t"},"x":{"datum":0.5,"type":"quantitative","scale":{"domain":[0,1],"nice":false,"zero":false},"axis":null},"y":{"datum":0.5,"type":"quantitative","scale":{"domain":[0,1],"nice":false,"zero":false},"axis":null}}},
  {"mark":{"type":"rule","color":"#000","strokeWidth":1.6},"encoding":{"x":{"datum":0,"type":"quantitative","scale":{"domain":[0,1],"nice":false,"zero":false},"axis":null},"x2":{"datum":1},"y":{"datum":1,"type":"quantitative","scale":{"domain":[0,1],"nice":false,"zero":false},"axis":null}}},
  {"mark":{"type":"rule","color":"#000","strokeWidth":1.2},"encoding":{"x":{"datum":0,"type":"quantitative","scale":{"domain":[0,1],"nice":false,"zero":false},"axis":null},"x2":{"datum":1},"y":{"datum":0,"type":"quantitative","scale":{"domain":[0,1],"nice":false,"zero":false},"axis":null}}},
  {"mark":{"type":"rule","color":"#000","strokeWidth":1},"encoding":{"x":{"datum":0,"type":"quantitative","scale":{"domain":[0,1],"nice":false,"zero":false},"axis":null},"y":{"datum":0,"type":"quantitative","scale":{"domain":[0,1],"nice":false,"zero":false},"axis":null},"y2":{"datum":1}}}
 ]},
 {"width":416,"height":68,"view":{"fill":"#f2f2f2","stroke":null},"data":{"values":[{"t":"구조유전자(DP-202216-6)"}]},"layer":[
  {"mark":{"type":"text","font":"DejaVu Serif, Noto Sans CJK KR","fontSize":23,"color":"#111"},"encoding":{"text":{"field":"t"},"x":{"datum":0.5,"type":"quantitative","scale":{"domain":[0,1],"nice":false,"zero":false},"axis":null},"y":{"datum":0.5,"type":"quantitative","scale":{"domain":[0,1],"nice":false,"zero":false},"axis":null}}},
  {"mark":{"type":"rule","color":"#000","strokeWidth":1.6},"encoding":{"x":{"datum":0,"type":"quantitative","scale":{"domain":[0,1],"nice":false,"zero":false},"axis":null},"x2":{"datum":1},"y":{"datum":1,"type":"quantitative","scale":{"domain":[0,1],"nice":false,"zero":false},"axis":null}}},
  {"mark":{"type":"rule","color":"#000","strokeWidth":1.2},"encoding":{"x":{"datum":0,"type":"quantitative","scale":{"domain":[0,1],"nice":false,"zero":false},"axis":null},"x2":{"datum":1},"y":{"datum":0,"type":"quantitative","scale":{"domain":[0,1],"nice":false,"zero":false},"axis":null}}},
  {"mark":{"type":"rule","color":"#000","strokeWidth":1},"encoding":{"x":{"datum":0,"type":"quantitative","scale":{"domain":[0,1],"nice":false,"zero":false},"axis":null},"y":{"datum":0,"type":"quantitative","scale":{"domain":[0,1],"nice":false,"zero":false},"axis":null},"y2":{"datum":1}}}
 ]},

 {"width":118,"height":273,"data":{"values":[{"t":""}]},"mark":{"type":"text"},"encoding":{"text":{"field":"t"},"x":{"datum":0.5,"type":"quantitative","scale":{"domain":[0,1],"nice":false,"zero":false},"axis":null},"y":{"datum":0.5,"type":"quantitative","scale":{"domain":[0,1],"nice":false,"zero":false},"axis":null}}},
 {"width":143,"height":273,"data":{"values":[{"t":"일내\n1회"}]},"layer":[
  {"mark":{"type":"text","font":"DejaVu Serif, Noto Sans CJK KR","fontSize":23,"lineBreak":"\n","lineHeight":37,"dy":-18.5,"color":"#111"},"encoding":{"text":{"field":"t"},"x":{"datum":0.5,"type":"quantitative","scale":{"domain":[0,1],"nice":false,"zero":false},"axis":null},"y":{"datum":0.5,"type":"quantitative","scale":{"domain":[0,1],"nice":false,"zero":false},"axis":null}}},
  {"mark":{"type":"rule","color":"#000","strokeWidth":1},"encoding":{"x":{"datum":0,"type":"quantitative","scale":{"domain":[0,1],"nice":false,"zero":false},"axis":null},"y":{"datum":0,"type":"quantitative","scale":{"domain":[0,1],"nice":false,"zero":false},"axis":null},"y2":{"datum":1}}},
  {"mark":{"type":"rule","color":"#000","strokeWidth":1},"encoding":{"x":{"datum":0,"type":"quantitative","scale":{"domain":[0,1],"nice":false,"zero":false},"axis":null},"x2":{"datum":1},"y":{"datum":0,"type":"quantitative","scale":{"domain":[0,1],"nice":false,"zero":false},"axis":null}}}
 ]},
 {"width":416,"height":273,"data":{"values":[{}]},"layer":[
  {"data":{"name":"gx"},"mark":{"type":"rule","color":"#e3e3e3","strokeWidth":0.6},"encoding":{"x":{"field":"c","type":"quantitative","scale":{"domain":[-4.7765,46.352],"nice":false,"zero":false}},"y":{"datum":0.000001,"type":"quantitative","scale":{"type":"log","domain":[4.18e-8,187.4],"nice":false}},"y2":{"datum":10}}},
  {"data":{"name":"gy"},"mark":{"type":"rule","color":"#ececec","strokeWidth":0.6},"encoding":{"y":{"field":"v","type":"quantitative","scale":{"type":"log","domain":[4.18e-8,187.4],"nice":false}},"x":{"datum":1,"type":"quantitative","scale":{"domain":[-4.7765,46.352],"nice":false,"zero":false}},"x2":{"datum":45}}},
  {"data":{"name":"gd"},"mark":{"type":"rule","color":"#d4d4d4","strokeWidth":0.7},"encoding":{"y":{"field":"v","type":"quantitative","scale":{"type":"log","domain":[4.18e-8,187.4],"nice":false}},"x":{"datum":1,"type":"quantitative","scale":{"domain":[-4.7765,46.352],"nice":false,"zero":false}},"x2":{"datum":45}}},
  {"mark":{"type":"rect","filled":false,"color":"#b0b0b0","strokeWidth":0.8},"encoding":{"x":{"datum":1,"type":"quantitative","scale":{"domain":[-4.7765,46.352],"nice":false,"zero":false},"axis":{"orient":"bottom","offset":-39,"labels":false,"grid":false,"ticks":false,"domain":false,"title":"Cycle","titleFontSize":6.5,"titleFontWeight":"normal","titleColor":"#555","titlePadding":9}},"x2":{"datum":45},"y":{"datum":0.000001,"type":"quantitative","scale":{"type":"log","domain":[4.18e-8,187.4],"nice":false},"axis":{"orient":"left","offset":-47,"values":[0.000001,0.00001,0.0001,0.001,0.01,0.1,1,10],"format":".6~f","grid":false,"ticks":false,"domain":false,"labelOverlap":false,"labelFontSize":5,"labelColor":"#666","labelPadding":2,"title":"ΔRn","titleFontSize":5.5,"titleFontWeight":"normal","titleColor":"#555","titlePadding":3}},"y2":{"datum":10}}},
  {"data":{"name":"xt"},"mark":{"type":"text","baseline":"top","font":"Liberation Sans","fontSize":5,"color":"#666"},"encoding":{"text":{"field":"c","type":"quantitative"},"x":{"field":"c","type":"quantitative","scale":{"domain":[-4.7765,46.352],"nice":false,"zero":false}},"y":{"datum":7.8e-7,"type":"quantitative","scale":{"type":"log","domain":[4.18e-8,187.4],"nice":false}}}},
  {"mark":{"type":"rule","color":"#e07ee0","strokeWidth":2},"encoding":{"y":{"datum":0.277642,"type":"quantitative","scale":{"type":"log","domain":[4.18e-8,187.4],"nice":false}},"x":{"datum":1,"type":"quantitative","scale":{"domain":[-4.7765,46.352],"nice":false,"zero":false}},"x2":{"datum":45}}},
  {"mark":{"type":"text","align":"left","baseline":"bottom","dy":-0.5,"font":"Liberation Serif","fontSize":7,"fontWeight":"bold","color":"#d8102c"},"encoding":{"text":{"value":"0.277642"},"x":{"datum":1,"type":"quantitative","scale":{"domain":[-4.7765,46.352],"nice":false,"zero":false}},"y":{"datum":0.277642,"type":"quantitative","scale":{"type":"log","domain":[4.18e-8,187.4],"nice":false}}}},
  {"data":{"name":"h1"},"mark":{"type":"line","strokeWidth":1},"encoding":{"x":{"field":"c","type":"quantitative","scale":{"domain":[-4.7765,46.352],"nice":false,"zero":false}},"y":{"field":"v","type":"quantitative","scale":{"type":"log","domain":[4.18e-8,187.4],"nice":false}},"detail":{"field":"s","type":"nominal"},"color":{"field":"g","type":"nominal","scale":{"domain":["n","p","y","o","r","v"],"range":["#cdcdcd","#bdbdbd","#f2bb46","#eb9d3d","#e2474b","#a9a55a"]},"legend":null}}},
  {"mark":{"type":"text","font":"Liberation Sans","fontSize":9,"fontWeight":"bold","color":"#222"},"encoding":{"text":{"value":"Amplification Plot"},"x":{"datum":20.8,"type":"quantitative","scale":{"domain":[-4.7765,46.352],"nice":false,"zero":false}},"y":{"datum":17.7,"type":"quantitative","scale":{"type":"log","domain":[4.18e-8,187.4],"nice":false}}}},
  {"mark":{"type":"rule","color":"#000","strokeWidth":1},"encoding":{"x":{"datum":-4.7765,"type":"quantitative","scale":{"domain":[-4.7765,46.352],"nice":false,"zero":false}},"y":{"datum":4.18e-8,"type":"quantitative","scale":{"type":"log","domain":[4.18e-8,187.4],"nice":false}},"y2":{"datum":187.4}}},
  {"mark":{"type":"rule","color":"#000","strokeWidth":1},"encoding":{"y":{"datum":4.18e-8,"type":"quantitative","scale":{"type":"log","domain":[4.18e-8,187.4],"nice":false}},"x":{"datum":-4.7765,"type":"quantitative","scale":{"domain":[-4.7765,46.352],"nice":false,"zero":false}},"x2":{"datum":46.352}}}
 ]},
 {"width":416,"height":273,"data":{"values":[{}]},"layer":[
  {"data":{"name":"gx"},"mark":{"type":"rule","color":"#e3e3e3","strokeWidth":0.6},"encoding":{"x":{"field":"c","type":"quantitative","scale":{"domain":[-4.7765,46.352],"nice":false,"zero":false}},"y":{"datum":0.000001,"type":"quantitative","scale":{"type":"log","domain":[4.18e-8,187.4],"nice":false}},"y2":{"datum":10}}},
  {"data":{"name":"gy"},"mark":{"type":"rule","color":"#ececec","strokeWidth":0.6},"encoding":{"y":{"field":"v","type":"quantitative","scale":{"type":"log","domain":[4.18e-8,187.4],"nice":false}},"x":{"datum":1,"type":"quantitative","scale":{"domain":[-4.7765,46.352],"nice":false,"zero":false}},"x2":{"datum":45}}},
  {"data":{"name":"gd"},"mark":{"type":"rule","color":"#d4d4d4","strokeWidth":0.7},"encoding":{"y":{"field":"v","type":"quantitative","scale":{"type":"log","domain":[4.18e-8,187.4],"nice":false}},"x":{"datum":1,"type":"quantitative","scale":{"domain":[-4.7765,46.352],"nice":false,"zero":false}},"x2":{"datum":45}}},
  {"mark":{"type":"rect","filled":false,"color":"#b0b0b0","strokeWidth":0.8},"encoding":{"x":{"datum":1,"type":"quantitative","scale":{"domain":[-4.7765,46.352],"nice":false,"zero":false},"axis":{"orient":"bottom","offset":-39,"labels":false,"grid":false,"ticks":false,"domain":false,"title":"Cycle","titleFontSize":6.5,"titleFontWeight":"normal","titleColor":"#555","titlePadding":9}},"x2":{"datum":45},"y":{"datum":0.000001,"type":"quantitative","scale":{"type":"log","domain":[4.18e-8,187.4],"nice":false},"axis":{"orient":"left","offset":-47,"values":[0.000001,0.00001,0.0001,0.001,0.01,0.1,1,10],"format":".6~f","grid":false,"ticks":false,"domain":false,"labelOverlap":false,"labelFontSize":5,"labelColor":"#666","labelPadding":2,"title":"ΔRn","titleFontSize":5.5,"titleFontWeight":"normal","titleColor":"#555","titlePadding":3}},"y2":{"datum":10}}},
  {"data":{"name":"xt"},"mark":{"type":"text","baseline":"top","font":"Liberation Sans","fontSize":5,"color":"#666"},"encoding":{"text":{"field":"c","type":"quantitative"},"x":{"field":"c","type":"quantitative","scale":{"domain":[-4.7765,46.352],"nice":false,"zero":false}},"y":{"datum":7.8e-7,"type":"quantitative","scale":{"type":"log","domain":[4.18e-8,187.4],"nice":false}}}},
  {"mark":{"type":"rule","color":"#f4a39c","strokeWidth":2},"encoding":{"y":{"datum":0.164893,"type":"quantitative","scale":{"type":"log","domain":[4.18e-8,187.4],"nice":false}},"x":{"datum":1,"type":"quantitative","scale":{"domain":[-4.7765,46.352],"nice":false,"zero":false}},"x2":{"datum":45}}},
  {"mark":{"type":"text","align":"left","baseline":"bottom","dy":-0.5,"font":"Liberation Serif","fontSize":7,"fontWeight":"bold","color":"#d8102c"},"encoding":{"text":{"value":"0.164893"},"x":{"datum":1,"type":"quantitative","scale":{"domain":[-4.7765,46.352],"nice":false,"zero":false}},"y":{"datum":0.164893,"type":"quantitative","scale":{"type":"log","domain":[4.18e-8,187.4],"nice":false}}}},
  {"data":{"name":"d1"},"mark":{"type":"line","strokeWidth":1},"encoding":{"x":{"field":"c","type":"quantitative","scale":{"domain":[-4.7765,46.352],"nice":false,"zero":false}},"y":{"field":"v","type":"quantitative","scale":{"type":"log","domain":[4.18e-8,187.4],"nice":false}},"detail":{"field":"s","type":"nominal"},"color":{"field":"g","type":"nominal","scale":{"domain":["n","p","y","o","r","v"],"range":["#cdcdcd","#bdbdbd","#f2bb46","#eb9d3d","#e2474b","#a9a55a"]},"legend":null}}},
  {"mark":{"type":"text","font":"Liberation Sans","fontSize":9,"fontWeight":"bold","color":"#222"},"encoding":{"text":{"value":"Amplification Plot"},"x":{"datum":20.8,"type":"quantitative","scale":{"domain":[-4.7765,46.352],"nice":false,"zero":false}},"y":{"datum":17.7,"type":"quantitative","scale":{"type":"log","domain":[4.18e-8,187.4],"nice":false}}}},
  {"mark":{"type":"text","font":"Open Sans","fontSize":9.5,"fontWeight":"bold","lineBreak":"\n","lineHeight":14,"dy":-7,"color":"#111"},"encoding":{"text":{"value":"Positive\n(100%)"},"x":{"datum":25.2,"type":"quantitative","scale":{"domain":[-4.7765,46.352],"nice":false,"zero":false}},"y":{"datum":1.2,"type":"quantitative","scale":{"type":"log","domain":[4.18e-8,187.4],"nice":false}}}},
  {"mark":{"type":"point","shape":"M-0.55,-1L0.55,-1L0.55,0.05L0.9,0.05L0,1L-0.9,0.05L-0.55,0.05Z","size":81,"filled":true,"color":"#000","opacity":1},"encoding":{"x":{"datum":26.44,"type":"quantitative","scale":{"domain":[-4.7765,46.352],"nice":false,"zero":false}},"y":{"datum":0.283,"type":"quantitative","scale":{"type":"log","domain":[4.18e-8,187.4],"nice":false}}}},
  {"mark":{"type":"text","font":"Open Sans","fontSize":9,"fontWeight":"bold","color":"#111"},"encoding":{"text":{"value":"0.05%"},"x":{"datum":39.47,"type":"quantitative","scale":{"domain":[-4.7765,46.352],"nice":false,"zero":false}},"y":{"datum":0.0219,"type":"quantitative","scale":{"type":"log","domain":[4.18e-8,187.4],"nice":false}}}},
  {"mark":{"type":"point","shape":"M-0.55,1L0.55,1L0.55,-0.05L0.9,-0.05L0,-1L-0.9,-0.05L-0.55,-0.05Z","size":81,"filled":true,"color":"#000","opacity":1},"encoding":{"x":{"datum":39.68,"type":"quantitative","scale":{"domain":[-4.7765,46.352],"nice":false,"zero":false}},"y":{"datum":0.065,"type":"quantitative","scale":{"type":"log","domain":[4.18e-8,187.4],"nice":false}}}},
  {"mark":{"type":"rule","color":"#000","strokeWidth":1},"encoding":{"x":{"datum":-4.7765,"type":"quantitative","scale":{"domain":[-4.7765,46.352],"nice":false,"zero":false}},"y":{"datum":4.18e-8,"type":"quantitative","scale":{"type":"log","domain":[4.18e-8,187.4],"nice":false}},"y2":{"datum":187.4}}},
  {"mark":{"type":"rule","color":"#000","strokeWidth":1},"encoding":{"y":{"datum":4.18e-8,"type":"quantitative","scale":{"type":"log","domain":[4.18e-8,187.4],"nice":false}},"x":{"datum":-4.7765,"type":"quantitative","scale":{"domain":[-4.7765,46.352],"nice":false,"zero":false}},"x2":{"datum":46.352}}}
 ]},

 {"width":118,"height":274,"data":{"values":[{"t":"기관\u00a0\u00a0C"}]},"mark":{"type":"text","font":"DejaVu Serif, Noto Sans CJK KR","fontSize":23,"color":"#111"},"encoding":{"text":{"field":"t"},"x":{"datum":0.5,"type":"quantitative","scale":{"domain":[0,1],"nice":false,"zero":false},"axis":null},"y":{"datum":0.5,"type":"quantitative","scale":{"domain":[0,1],"nice":false,"zero":false},"axis":null}}},
 {"width":143,"height":274,"data":{"values":[{"t":"일내\n2회"}]},"layer":[
  {"mark":{"type":"text","font":"DejaVu Serif, Noto Sans CJK KR","fontSize":23,"lineBreak":"\n","lineHeight":37,"dy":-18.5,"color":"#111"},"encoding":{"text":{"field":"t"},"x":{"datum":0.5,"type":"quantitative","scale":{"domain":[0,1],"nice":false,"zero":false},"axis":null},"y":{"datum":0.5,"type":"quantitative","scale":{"domain":[0,1],"nice":false,"zero":false},"axis":null}}},
  {"mark":{"type":"rule","color":"#000","strokeWidth":1},"encoding":{"x":{"datum":0,"type":"quantitative","scale":{"domain":[0,1],"nice":false,"zero":false},"axis":null},"y":{"datum":0,"type":"quantitative","scale":{"domain":[0,1],"nice":false,"zero":false},"axis":null},"y2":{"datum":1}}},
  {"mark":{"type":"rule","color":"#000","strokeWidth":1},"encoding":{"x":{"datum":0,"type":"quantitative","scale":{"domain":[0,1],"nice":false,"zero":false},"axis":null},"x2":{"datum":1},"y":{"datum":0,"type":"quantitative","scale":{"domain":[0,1],"nice":false,"zero":false},"axis":null}}}
 ]},
 {"width":416,"height":274,"data":{"values":[{}]},"layer":[
  {"data":{"name":"gx"},"mark":{"type":"rule","color":"#e3e3e3","strokeWidth":0.6},"encoding":{"x":{"field":"c","type":"quantitative","scale":{"domain":[-4.7765,46.352],"nice":false,"zero":false}},"y":{"datum":0.000001,"type":"quantitative","scale":{"type":"log","domain":[3.855e-8,187.4],"nice":false}},"y2":{"datum":10}}},
  {"data":{"name":"gy"},"mark":{"type":"rule","color":"#ececec","strokeWidth":0.6},"encoding":{"y":{"field":"v","type":"quantitative","scale":{"type":"log","domain":[3.855e-8,187.4],"nice":false}},"x":{"datum":1,"type":"quantitative","scale":{"domain":[-4.7765,46.352],"nice":false,"zero":false}},"x2":{"datum":45}}},
  {"data":{"name":"gd"},"mark":{"type":"rule","color":"#d4d4d4","strokeWidth":0.7},"encoding":{"y":{"field":"v","type":"quantitative","scale":{"type":"log","domain":[3.855e-8,187.4],"nice":false}},"x":{"datum":1,"type":"quantitative","scale":{"domain":[-4.7765,46.352],"nice":false,"zero":false}},"x2":{"datum":45}}},
  {"mark":{"type":"rect","filled":false,"color":"#b0b0b0","strokeWidth":0.8},"encoding":{"x":{"datum":1,"type":"quantitative","scale":{"domain":[-4.7765,46.352],"nice":false,"zero":false},"axis":{"orient":"bottom","offset":-40,"labels":false,"grid":false,"ticks":false,"domain":false,"title":"Cycle","titleFontSize":6.5,"titleFontWeight":"normal","titleColor":"#555","titlePadding":9}},"x2":{"datum":45},"y":{"datum":0.000001,"type":"quantitative","scale":{"type":"log","domain":[3.855e-8,187.4],"nice":false},"axis":{"orient":"left","offset":-47,"values":[0.000001,0.00001,0.0001,0.001,0.01,0.1,1,10],"format":".6~f","grid":false,"ticks":false,"domain":false,"labelOverlap":false,"labelFontSize":5,"labelColor":"#666","labelPadding":2,"title":"ΔRn","titleFontSize":5.5,"titleFontWeight":"normal","titleColor":"#555","titlePadding":3}},"y2":{"datum":10}}},
  {"data":{"name":"xt"},"mark":{"type":"text","baseline":"top","font":"Liberation Sans","fontSize":5,"color":"#666"},"encoding":{"text":{"field":"c","type":"quantitative"},"x":{"field":"c","type":"quantitative","scale":{"domain":[-4.7765,46.352],"nice":false,"zero":false}},"y":{"datum":7.8e-7,"type":"quantitative","scale":{"type":"log","domain":[3.855e-8,187.4],"nice":false}}}},
  {"mark":{"type":"rule","color":"#e07ee0","strokeWidth":2},"encoding":{"y":{"datum":0.277642,"type":"quantitative","scale":{"type":"log","domain":[3.855e-8,187.4],"nice":false}},"x":{"datum":1,"type":"quantitative","scale":{"domain":[-4.7765,46.352],"nice":false,"zero":false}},"x2":{"datum":45}}},
  {"mark":{"type":"text","align":"left","baseline":"bottom","dy":-0.5,"font":"Liberation Serif","fontSize":7,"fontWeight":"bold","color":"#d8102c"},"encoding":{"text":{"value":"0.277642"},"x":{"datum":1,"type":"quantitative","scale":{"domain":[-4.7765,46.352],"nice":false,"zero":false}},"y":{"datum":0.277642,"type":"quantitative","scale":{"type":"log","domain":[3.855e-8,187.4],"nice":false}}}},
  {"data":{"name":"h2"},"mark":{"type":"line","strokeWidth":1},"encoding":{"x":{"field":"c","type":"quantitative","scale":{"domain":[-4.7765,46.352],"nice":false,"zero":false}},"y":{"field":"v","type":"quantitative","scale":{"type":"log","domain":[3.855e-8,187.4],"nice":false}},"detail":{"field":"s","type":"nominal"},"color":{"field":"g","type":"nominal","scale":{"domain":["n","p","y","o","r","v"],"range":["#cdcdcd","#bdbdbd","#f2bb46","#eb9d3d","#e2474b","#a9a55a"]},"legend":null}}},
  {"mark":{"type":"text","font":"Liberation Sans","fontSize":9,"fontWeight":"bold","color":"#222"},"encoding":{"text":{"value":"Amplification Plot"},"x":{"datum":20.8,"type":"quantitative","scale":{"domain":[-4.7765,46.352],"nice":false,"zero":false}},"y":{"datum":17.7,"type":"quantitative","scale":{"type":"log","domain":[3.855e-8,187.4],"nice":false}}}},
  {"mark":{"type":"rule","color":"#000","strokeWidth":1},"encoding":{"x":{"datum":-4.7765,"type":"quantitative","scale":{"domain":[-4.7765,46.352],"nice":false,"zero":false}},"y":{"datum":3.855e-8,"type":"quantitative","scale":{"type":"log","domain":[3.855e-8,187.4],"nice":false}},"y2":{"datum":187.4}}},
  {"mark":{"type":"rule","color":"#000","strokeWidth":1},"encoding":{"y":{"datum":3.855e-8,"type":"quantitative","scale":{"type":"log","domain":[3.855e-8,187.4],"nice":false}},"x":{"datum":-4.7765,"type":"quantitative","scale":{"domain":[-4.7765,46.352],"nice":false,"zero":false}},"x2":{"datum":46.352}}}
 ]},
 {"width":416,"height":274,"data":{"values":[{}]},"layer":[
  {"data":{"name":"gx"},"mark":{"type":"rule","color":"#e3e3e3","strokeWidth":0.6},"encoding":{"x":{"field":"c","type":"quantitative","scale":{"domain":[-4.7765,46.352],"nice":false,"zero":false}},"y":{"datum":0.000001,"type":"quantitative","scale":{"type":"log","domain":[3.855e-8,187.4],"nice":false}},"y2":{"datum":10}}},
  {"data":{"name":"gy"},"mark":{"type":"rule","color":"#ececec","strokeWidth":0.6},"encoding":{"y":{"field":"v","type":"quantitative","scale":{"type":"log","domain":[3.855e-8,187.4],"nice":false}},"x":{"datum":1,"type":"quantitative","scale":{"domain":[-4.7765,46.352],"nice":false,"zero":false}},"x2":{"datum":45}}},
  {"data":{"name":"gd"},"mark":{"type":"rule","color":"#d4d4d4","strokeWidth":0.7},"encoding":{"y":{"field":"v","type":"quantitative","scale":{"type":"log","domain":[3.855e-8,187.4],"nice":false}},"x":{"datum":1,"type":"quantitative","scale":{"domain":[-4.7765,46.352],"nice":false,"zero":false}},"x2":{"datum":45}}},
  {"mark":{"type":"rect","filled":false,"color":"#b0b0b0","strokeWidth":0.8},"encoding":{"x":{"datum":1,"type":"quantitative","scale":{"domain":[-4.7765,46.352],"nice":false,"zero":false},"axis":{"orient":"bottom","offset":-40,"labels":false,"grid":false,"ticks":false,"domain":false,"title":"Cycle","titleFontSize":6.5,"titleFontWeight":"normal","titleColor":"#555","titlePadding":9}},"x2":{"datum":45},"y":{"datum":0.000001,"type":"quantitative","scale":{"type":"log","domain":[3.855e-8,187.4],"nice":false},"axis":{"orient":"left","offset":-47,"values":[0.000001,0.00001,0.0001,0.001,0.01,0.1,1,10],"format":".6~f","grid":false,"ticks":false,"domain":false,"labelOverlap":false,"labelFontSize":5,"labelColor":"#666","labelPadding":2,"title":"ΔRn","titleFontSize":5.5,"titleFontWeight":"normal","titleColor":"#555","titlePadding":3}},"y2":{"datum":10}}},
  {"data":{"name":"xt"},"mark":{"type":"text","baseline":"top","font":"Liberation Sans","fontSize":5,"color":"#666"},"encoding":{"text":{"field":"c","type":"quantitative"},"x":{"field":"c","type":"quantitative","scale":{"domain":[-4.7765,46.352],"nice":false,"zero":false}},"y":{"datum":7.8e-7,"type":"quantitative","scale":{"type":"log","domain":[3.855e-8,187.4],"nice":false}}}},
  {"mark":{"type":"rule","color":"#f4a39c","strokeWidth":2},"encoding":{"y":{"datum":0.164893,"type":"quantitative","scale":{"type":"log","domain":[3.855e-8,187.4],"nice":false}},"x":{"datum":1,"type":"quantitative","scale":{"domain":[-4.7765,46.352],"nice":false,"zero":false}},"x2":{"datum":45}}},
  {"mark":{"type":"text","align":"left","baseline":"bottom","dy":-0.5,"font":"Liberation Serif","fontSize":7,"fontWeight":"bold","color":"#d8102c"},"encoding":{"text":{"value":"0.164893"},"x":{"datum":1,"type":"quantitative","scale":{"domain":[-4.7765,46.352],"nice":false,"zero":false}},"y":{"datum":0.164893,"type":"quantitative","scale":{"type":"log","domain":[3.855e-8,187.4],"nice":false}}}},
  {"data":{"name":"d2"},"mark":{"type":"line","strokeWidth":1},"encoding":{"x":{"field":"c","type":"quantitative","scale":{"domain":[-4.7765,46.352],"nice":false,"zero":false}},"y":{"field":"v","type":"quantitative","scale":{"type":"log","domain":[3.855e-8,187.4],"nice":false}},"detail":{"field":"s","type":"nominal"},"color":{"field":"g","type":"nominal","scale":{"domain":["n","p","y","o","r","v"],"range":["#cdcdcd","#bdbdbd","#f2bb46","#eb9d3d","#e2474b","#a9a55a"]},"legend":null}}},
  {"mark":{"type":"text","font":"Liberation Sans","fontSize":9,"fontWeight":"bold","color":"#222"},"encoding":{"text":{"value":"Amplification Plot"},"x":{"datum":20.8,"type":"quantitative","scale":{"domain":[-4.7765,46.352],"nice":false,"zero":false}},"y":{"datum":17.7,"type":"quantitative","scale":{"type":"log","domain":[3.855e-8,187.4],"nice":false}}}},
  {"mark":{"type":"text","font":"Open Sans","fontSize":9.5,"fontWeight":"bold","lineBreak":"\n","lineHeight":14,"dy":-7,"color":"#111"},"encoding":{"text":{"value":"Positive\n(100%)"},"x":{"datum":24.95,"type":"quantitative","scale":{"domain":[-4.7765,46.352],"nice":false,"zero":false}},"y":{"datum":1.67,"type":"quantitative","scale":{"type":"log","domain":[3.855e-8,187.4],"nice":false}}}},
  {"mark":{"type":"point","shape":"M-0.55,-1L0.55,-1L0.55,0.05L0.9,0.05L0,1L-0.9,0.05L-0.55,0.05Z","size":81,"filled":true,"color":"#000","opacity":1},"encoding":{"x":{"datum":26.3,"type":"quantitative","scale":{"domain":[-4.7765,46.352],"nice":false,"zero":false}},"y":{"datum":0.33,"type":"quantitative","scale":{"type":"log","domain":[3.855e-8,187.4],"nice":false}}}},
  {"mark":{"type":"text","font":"Open Sans","fontSize":9,"fontWeight":"bold","color":"#111"},"encoding":{"text":{"value":"0.05%"},"x":{"datum":37.8,"type":"quantitative","scale":{"domain":[-4.7765,46.352],"nice":false,"zero":false}},"y":{"datum":0.024,"type":"quantitative","scale":{"type":"log","domain":[3.855e-8,187.4],"nice":false}}}},
  {"mark":{"type":"point","shape":"M-0.55,1L0.55,1L0.55,-0.05L0.9,-0.05L0,-1L-0.9,-0.05L-0.55,-0.05Z","size":81,"filled":true,"color":"#000","opacity":1},"encoding":{"x":{"datum":38.0,"type":"quantitative","scale":{"domain":[-4.7765,46.352],"nice":false,"zero":false}},"y":{"datum":0.07,"type":"quantitative","scale":{"type":"log","domain":[3.855e-8,187.4],"nice":false}}}},
  {"mark":{"type":"rule","color":"#000","strokeWidth":1},"encoding":{"x":{"datum":-4.7765,"type":"quantitative","scale":{"domain":[-4.7765,46.352],"nice":false,"zero":false}},"y":{"datum":3.855e-8,"type":"quantitative","scale":{"type":"log","domain":[3.855e-8,187.4],"nice":false}},"y2":{"datum":187.4}}},
  {"mark":{"type":"rule","color":"#000","strokeWidth":1},"encoding":{"y":{"datum":3.855e-8,"type":"quantitative","scale":{"type":"log","domain":[3.855e-8,187.4],"nice":false}},"x":{"datum":-4.7765,"type":"quantitative","scale":{"domain":[-4.7765,46.352],"nice":false,"zero":false}},"x2":{"datum":46.352}}}
 ]},

 {"width":118,"height":276,"data":{"values":[{"t":""}]},"layer":[
  {"mark":{"type":"text"},"encoding":{"text":{"field":"t"},"x":{"datum":0.5,"type":"quantitative","scale":{"domain":[0,1],"nice":false,"zero":false},"axis":null},"y":{"datum":0.5,"type":"quantitative","scale":{"domain":[0,1],"nice":false,"zero":false},"axis":null}}},
  {"mark":{"type":"rule","color":"#000","strokeWidth":1.6},"encoding":{"x":{"datum":0,"type":"quantitative","scale":{"domain":[0,1],"nice":false,"zero":false},"axis":null},"x2":{"datum":1},"y":{"datum":0,"type":"quantitative","scale":{"domain":[0,1],"nice":false,"zero":false},"axis":null}}}
 ]},
 {"width":143,"height":276,"data":{"values":[{"t":"일내\n3회"}]},"layer":[
  {"mark":{"type":"text","font":"DejaVu Serif, Noto Sans CJK KR","fontSize":23,"lineBreak":"\n","lineHeight":37,"dy":-18.5,"color":"#111"},"encoding":{"text":{"field":"t"},"x":{"datum":0.5,"type":"quantitative","scale":{"domain":[0,1],"nice":false,"zero":false},"axis":null},"y":{"datum":0.5,"type":"quantitative","scale":{"domain":[0,1],"nice":false,"zero":false},"axis":null}}},
  {"mark":{"type":"rule","color":"#000","strokeWidth":1},"encoding":{"x":{"datum":0,"type":"quantitative","scale":{"domain":[0,1],"nice":false,"zero":false},"axis":null},"y":{"datum":0,"type":"quantitative","scale":{"domain":[0,1],"nice":false,"zero":false},"axis":null},"y2":{"datum":1}}},
  {"mark":{"type":"rule","color":"#000","strokeWidth":1.6},"encoding":{"x":{"datum":0,"type":"quantitative","scale":{"domain":[0,1],"nice":false,"zero":false},"axis":null},"x2":{"datum":1},"y":{"datum":0,"type":"quantitative","scale":{"domain":[0,1],"nice":false,"zero":false},"axis":null}}}
 ]},
 {"width":416,"height":276,"data":{"values":[{}]},"layer":[
  {"data":{"name":"gx"},"mark":{"type":"rule","color":"#e3e3e3","strokeWidth":0.6},"encoding":{"x":{"field":"c","type":"quantitative","scale":{"domain":[-4.7765,46.352],"nice":false,"zero":false}},"y":{"datum":0.000001,"type":"quantitative","scale":{"type":"log","domain":[3.276e-8,187.4],"nice":false}},"y2":{"datum":10}}},
  {"data":{"name":"gy"},"mark":{"type":"rule","color":"#ececec","strokeWidth":0.6},"encoding":{"y":{"field":"v","type":"quantitative","scale":{"type":"log","domain":[3.276e-8,187.4],"nice":false}},"x":{"datum":1,"type":"quantitative","scale":{"domain":[-4.7765,46.352],"nice":false,"zero":false}},"x2":{"datum":45}}},
  {"data":{"name":"gd"},"mark":{"type":"rule","color":"#d4d4d4","strokeWidth":0.7},"encoding":{"y":{"field":"v","type":"quantitative","scale":{"type":"log","domain":[3.276e-8,187.4],"nice":false}},"x":{"datum":1,"type":"quantitative","scale":{"domain":[-4.7765,46.352],"nice":false,"zero":false}},"x2":{"datum":45}}},
  {"mark":{"type":"rect","filled":false,"color":"#b0b0b0","strokeWidth":0.8},"encoding":{"x":{"datum":1,"type":"quantitative","scale":{"domain":[-4.7765,46.352],"nice":false,"zero":false},"axis":{"orient":"bottom","offset":-42,"labels":false,"grid":false,"ticks":false,"domain":false,"title":"Cycle","titleFontSize":6.5,"titleFontWeight":"normal","titleColor":"#555","titlePadding":9}},"x2":{"datum":45},"y":{"datum":0.000001,"type":"quantitative","scale":{"type":"log","domain":[3.276e-8,187.4],"nice":false},"axis":{"orient":"left","offset":-47,"values":[0.000001,0.00001,0.0001,0.001,0.01,0.1,1,10],"format":".6~f","grid":false,"ticks":false,"domain":false,"labelOverlap":false,"labelFontSize":5,"labelColor":"#666","labelPadding":2,"title":"ΔRn","titleFontSize":5.5,"titleFontWeight":"normal","titleColor":"#555","titlePadding":3}},"y2":{"datum":10}}},
  {"data":{"name":"xt"},"mark":{"type":"text","baseline":"top","font":"Liberation Sans","fontSize":5,"color":"#666"},"encoding":{"text":{"field":"c","type":"quantitative"},"x":{"field":"c","type":"quantitative","scale":{"domain":[-4.7765,46.352],"nice":false,"zero":false}},"y":{"datum":7.8e-7,"type":"quantitative","scale":{"type":"log","domain":[3.276e-8,187.4],"nice":false}}}},
  {"mark":{"type":"rule","color":"#e07ee0","strokeWidth":2},"encoding":{"y":{"datum":0.277642,"type":"quantitative","scale":{"type":"log","domain":[3.276e-8,187.4],"nice":false}},"x":{"datum":1,"type":"quantitative","scale":{"domain":[-4.7765,46.352],"nice":false,"zero":false}},"x2":{"datum":45}}},
  {"mark":{"type":"text","align":"left","baseline":"bottom","dy":-0.5,"font":"Liberation Serif","fontSize":7,"fontWeight":"bold","color":"#d8102c"},"encoding":{"text":{"value":"0.277642"},"x":{"datum":1,"type":"quantitative","scale":{"domain":[-4.7765,46.352],"nice":false,"zero":false}},"y":{"datum":0.277642,"type":"quantitative","scale":{"type":"log","domain":[3.276e-8,187.4],"nice":false}}}},
  {"data":{"name":"h3"},"mark":{"type":"line","strokeWidth":1},"encoding":{"x":{"field":"c","type":"quantitative","scale":{"domain":[-4.7765,46.352],"nice":false,"zero":false}},"y":{"field":"v","type":"quantitative","scale":{"type":"log","domain":[3.276e-8,187.4],"nice":false}},"detail":{"field":"s","type":"nominal"},"color":{"field":"g","type":"nominal","scale":{"domain":["n","p","y","o","r","v"],"range":["#cdcdcd","#bdbdbd","#f2bb46","#eb9d3d","#e2474b","#a9a55a"]},"legend":null}}},
  {"mark":{"type":"text","font":"Liberation Sans","fontSize":9,"fontWeight":"bold","color":"#222"},"encoding":{"text":{"value":"Amplification Plot"},"x":{"datum":20.8,"type":"quantitative","scale":{"domain":[-4.7765,46.352],"nice":false,"zero":false}},"y":{"datum":17.7,"type":"quantitative","scale":{"type":"log","domain":[3.276e-8,187.4],"nice":false}}}},
  {"mark":{"type":"rule","color":"#000","strokeWidth":1},"encoding":{"x":{"datum":-4.7765,"type":"quantitative","scale":{"domain":[-4.7765,46.352],"nice":false,"zero":false}},"y":{"datum":3.276e-8,"type":"quantitative","scale":{"type":"log","domain":[3.276e-8,187.4],"nice":false}},"y2":{"datum":187.4}}},
  {"mark":{"type":"rule","color":"#000","strokeWidth":1.6},"encoding":{"y":{"datum":3.276e-8,"type":"quantitative","scale":{"type":"log","domain":[3.276e-8,187.4],"nice":false}},"x":{"datum":-4.7765,"type":"quantitative","scale":{"domain":[-4.7765,46.352],"nice":false,"zero":false}},"x2":{"datum":46.352}}}
 ]},
 {"width":416,"height":276,"data":{"values":[{}]},"layer":[
  {"data":{"name":"gx"},"mark":{"type":"rule","color":"#e3e3e3","strokeWidth":0.6},"encoding":{"x":{"field":"c","type":"quantitative","scale":{"domain":[-4.7765,46.352],"nice":false,"zero":false}},"y":{"datum":0.000001,"type":"quantitative","scale":{"type":"log","domain":[3.276e-8,187.4],"nice":false}},"y2":{"datum":10}}},
  {"data":{"name":"gy"},"mark":{"type":"rule","color":"#ececec","strokeWidth":0.6},"encoding":{"y":{"field":"v","type":"quantitative","scale":{"type":"log","domain":[3.276e-8,187.4],"nice":false}},"x":{"datum":1,"type":"quantitative","scale":{"domain":[-4.7765,46.352],"nice":false,"zero":false}},"x2":{"datum":45}}},
  {"data":{"name":"gd"},"mark":{"type":"rule","color":"#d4d4d4","strokeWidth":0.7},"encoding":{"y":{"field":"v","type":"quantitative","scale":{"type":"log","domain":[3.276e-8,187.4],"nice":false}},"x":{"datum":1,"type":"quantitative","scale":{"domain":[-4.7765,46.352],"nice":false,"zero":false}},"x2":{"datum":45}}},
  {"mark":{"type":"rect","filled":false,"color":"#b0b0b0","strokeWidth":0.8},"encoding":{"x":{"datum":1,"type":"quantitative","scale":{"domain":[-4.7765,46.352],"nice":false,"zero":false},"axis":{"orient":"bottom","offset":-42,"labels":false,"grid":false,"ticks":false,"domain":false,"title":"Cycle","titleFontSize":6.5,"titleFontWeight":"normal","titleColor":"#555","titlePadding":9}},"x2":{"datum":45},"y":{"datum":0.000001,"type":"quantitative","scale":{"type":"log","domain":[3.276e-8,187.4],"nice":false},"axis":{"orient":"left","offset":-47,"values":[0.000001,0.00001,0.0001,0.001,0.01,0.1,1,10],"format":".6~f","grid":false,"ticks":false,"domain":false,"labelOverlap":false,"labelFontSize":5,"labelColor":"#666","labelPadding":2,"title":"ΔRn","titleFontSize":5.5,"titleFontWeight":"normal","titleColor":"#555","titlePadding":3}},"y2":{"datum":10}}},
  {"data":{"name":"xt"},"mark":{"type":"text","baseline":"top","font":"Liberation Sans","fontSize":5,"color":"#666"},"encoding":{"text":{"field":"c","type":"quantitative"},"x":{"field":"c","type":"quantitative","scale":{"domain":[-4.7765,46.352],"nice":false,"zero":false}},"y":{"datum":7.8e-7,"type":"quantitative","scale":{"type":"log","domain":[3.276e-8,187.4],"nice":false}}}},
  {"mark":{"type":"rule","color":"#f4a39c","strokeWidth":2},"encoding":{"y":{"datum":0.164893,"type":"quantitative","scale":{"type":"log","domain":[3.276e-8,187.4],"nice":false}},"x":{"datum":1,"type":"quantitative","scale":{"domain":[-4.7765,46.352],"nice":false,"zero":false}},"x2":{"datum":45}}},
  {"mark":{"type":"text","align":"left","baseline":"bottom","dy":-0.5,"font":"Liberation Serif","fontSize":7,"fontWeight":"bold","color":"#d8102c"},"encoding":{"text":{"value":"0.164893"},"x":{"datum":1,"type":"quantitative","scale":{"domain":[-4.7765,46.352],"nice":false,"zero":false}},"y":{"datum":0.164893,"type":"quantitative","scale":{"type":"log","domain":[3.276e-8,187.4],"nice":false}}}},
  {"data":{"name":"d3"},"mark":{"type":"line","strokeWidth":1},"encoding":{"x":{"field":"c","type":"quantitative","scale":{"domain":[-4.7765,46.352],"nice":false,"zero":false}},"y":{"field":"v","type":"quantitative","scale":{"type":"log","domain":[3.276e-8,187.4],"nice":false}},"detail":{"field":"s","type":"nominal"},"color":{"field":"g","type":"nominal","scale":{"domain":["n","p","y","o","r","v"],"range":["#cdcdcd","#bdbdbd","#f2bb46","#eb9d3d","#e2474b","#a9a55a"]},"legend":null}}},
  {"mark":{"type":"text","font":"Liberation Sans","fontSize":9,"fontWeight":"bold","color":"#222"},"encoding":{"text":{"value":"Amplification Plot"},"x":{"datum":20.8,"type":"quantitative","scale":{"domain":[-4.7765,46.352],"nice":false,"zero":false}},"y":{"datum":17.7,"type":"quantitative","scale":{"type":"log","domain":[3.276e-8,187.4],"nice":false}}}},
  {"mark":{"type":"text","font":"Open Sans","fontSize":9.5,"fontWeight":"bold","lineBreak":"\n","lineHeight":14,"dy":-7,"color":"#111"},"encoding":{"text":{"value":"Positive\n(100%)"},"x":{"datum":25.06,"type":"quantitative","scale":{"domain":[-4.7765,46.352],"nice":false,"zero":false}},"y":{"datum":1.63,"type":"quantitative","scale":{"type":"log","domain":[3.276e-8,187.4],"nice":false}}}},
  {"mark":{"type":"point","shape":"M-0.55,-1L0.55,-1L0.55,0.05L0.9,0.05L0,1L-0.9,0.05L-0.55,0.05Z","size":81,"filled":true,"color":"#000","opacity":1},"encoding":{"x":{"datum":26.3,"type":"quantitative","scale":{"domain":[-4.7765,46.352],"nice":false,"zero":false}},"y":{"datum":0.337,"type":"quantitative","scale":{"type":"log","domain":[3.276e-8,187.4],"nice":false}}}},
  {"mark":{"type":"text","font":"Open Sans","fontSize":9,"fontWeight":"bold","color":"#111"},"encoding":{"text":{"value":"0.05%"},"x":{"datum":38.6,"type":"quantitative","scale":{"domain":[-4.7765,46.352],"nice":false,"zero":false}},"y":{"datum":0.0248,"type":"quantitative","scale":{"type":"log","domain":[3.276e-8,187.4],"nice":false}}}},
  {"mark":{"type":"point","shape":"M-0.55,1L0.55,1L0.55,-0.05L0.9,-0.05L0,-1L-0.9,-0.05L-0.55,-0.05Z","size":81,"filled":true,"color":"#000","opacity":1},"encoding":{"x":{"datum":38.8,"type":"quantitative","scale":{"domain":[-4.7765,46.352],"nice":false,"zero":false}},"y":{"datum":0.073,"type":"quantitative","scale":{"type":"log","domain":[3.276e-8,187.4],"nice":false}}}},
  {"mark":{"type":"rule","color":"#000","strokeWidth":1},"encoding":{"x":{"datum":-4.7765,"type":"quantitative","scale":{"domain":[-4.7765,46.352],"nice":false,"zero":false}},"y":{"datum":3.276e-8,"type":"quantitative","scale":{"type":"log","domain":[3.276e-8,187.4],"nice":false}},"y2":{"datum":187.4}}},
  {"mark":{"type":"rule","color":"#000","strokeWidth":1.6},"encoding":{"y":{"datum":3.276e-8,"type":"quantitative","scale":{"type":"log","domain":[3.276e-8,187.4],"nice":false}},"x":{"datum":-4.7765,"type":"quantitative","scale":{"domain":[-4.7765,46.352],"nice":false,"zero":false}},"x2":{"datum":46.352}}}
 ]}
]
}
